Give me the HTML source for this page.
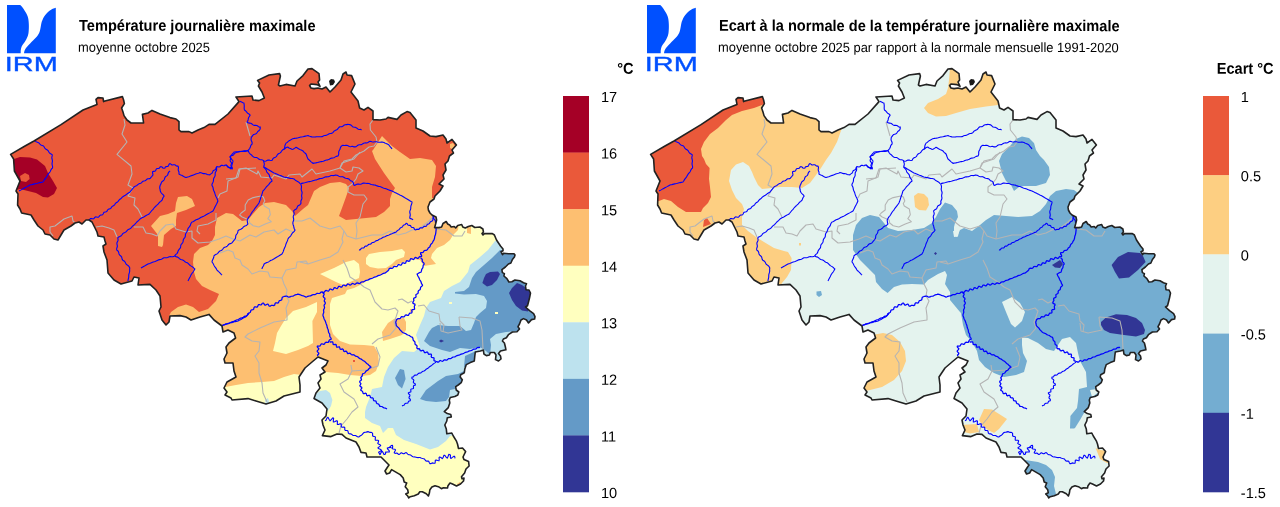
<!DOCTYPE html>
<html lang="fr"><head><meta charset="utf-8"><title>IRM - Température journalière maximale</title>
<style>html,body{margin:0;padding:0;background:#fff;overflow:hidden}svg{display:block;will-change:transform}</style></head>
<body>
<svg width="1280" height="507" viewBox="0 0 1280 507" font-family="'Liberation Sans', sans-serif" fill="#000">
<defs><clipPath id="bel"><path d="M10.6 154.4 L25 146 L34 141 L61 124.6 L83 110 L97 104.4 L96 99.4 L98 97.6 L103 98 L103.6 101.6 L105 101 L122.4 96.6 L123.6 100 L124.4 103.6 L121.6 108 L123 112 L124 115.6 L127 120 L131 123 L143.6 123 L142.4 114.4 L148 113 L152 110.4 L160 114 L170 117.6 L176 119 L179 121.6 L179 130 L181 131.6 L189 131.6 L192 133 L198 130 L204 127.6 L209 124.4 L215 124.4 L228 114 L239 101.6 L236 97 L252 96 L253 100 L259 100.6 L264.4 98 L262 92 L258.4 86 L259.6 83 L257.6 80.4 L269 75 L279.6 73.6 L280.4 76 L278.4 85 L280 86 L286 84.4 L295 86 L297 81 L303 75.6 L308 69 L312 68.6 L319 73.6 L319.6 80 L318 82 L320 86.4 L317 84.6 L311 84 L309.6 85.6 L311 88 L314 88.6 L318 88 L322 89 L326 87 L330 92 L335 87 L341 80 L343 74 L346 72 L347 75 L351.6 75.6 L355 84 L351 92 L358 101 L359.6 108 L364 110 L368 107.4 L373 111 L373 119.6 L380 120 L386 119 L388 117.4 L397 119.4 L401 115 L407 111.6 L410 112.6 L416 120 L416 128 L423 131 L430 136 L436 136.6 L443 135 L446 139 L447 143 L452 139.4 L456.4 145 L452 150 L453.5 153 L449.5 156 L448 161 L445 164 L446 170 L443 175 L444 179 L439 184 L443 186 L440 191 L435 196 L434 199 L430 202 L428 207 L428.4 210 L430 213 L432 215 L436 217 L436.6 220 L435.6 224 L434.6 227.6 L439 227.6 L441.6 227 L443 223.5 L446.2 221.5 L447.7 224 L449.7 225 L451.2 227 L454.2 226.5 L455.7 228 L457.7 225.5 L461.7 224.5 L462.8 227 L465.3 228 L468.3 226.5 L471.8 225.5 L474.8 227.5 L479.9 227 L482.9 229 L483.4 232 L482 233.6 L483 235 L484.4 233.6 L492.4 233.6 L494.4 235 L496.5 240 L500.5 246 L503 249 L503 250.7 L501 251.7 L502.5 254.7 L503.5 253.3 L508.5 253.7 L514 253.7 L515 255 L514.4 257 L512.4 259.5 L510.9 263 L508.4 264 L505.4 267 L501.9 269.6 L502.4 272.6 L504.4 273.6 L503.9 276 L506.9 278.6 L508.9 282 L511.9 281.7 L514.9 280 L520 280.7 L523.5 282.7 L526.5 283.7 L525.5 286 L526 289.7 L529 290 L530.5 293 L529.5 298 L528.5 302 L527.5 305.8 L525.5 307 L529.5 310.6 L533.6 313.6 L535 316.6 L534.6 319 L531.5 319.6 L528.5 323 L526.5 320 L523.5 318.6 L521 320 L519.5 324 L518 326.7 L519.5 329 L517 331.7 L512.4 332 L508.4 334.7 L506.4 337.7 L503.4 339 L502.4 341 L504.4 343 L505.4 347 L505.9 349.8 L500.5 351 L498.5 353.6 L500.5 356 L501 359 L498.5 361 L495.5 359.6 L496 355 L494.4 352.5 L490.4 352.5 L489.4 355 L486.4 355.6 L483.9 354 L483.4 350 L480.4 351 L475.3 352 L474.8 356 L474.3 361 L470.3 362.6 L466.3 364.6 L464.8 369 L464.3 372.7 L460.7 374.7 L460.2 377 L462.3 379.7 L461.2 382.7 L458.2 385 L455.7 386.7 L456.2 390 L458.8 392 L457.8 395 L454.8 396.5 L450.3 397.5 L449.3 400 L449.8 403 L448.3 407.6 L444.3 411.6 L447.3 413.6 L450.8 414.6 L451.3 417 L447.3 417.7 L446.8 421 L444.8 425 L446.3 429 L446.8 433.8 L451.8 433 L453.3 436 L456.3 440.8 L457.5 444 L458.5 448.5 L462.5 448 L465.6 451.6 L463 457 L464 459.6 L468.6 461.6 L469.1 466 L466 469 L464.6 473 L461.5 476.7 L462 478.7 L464 478 L463.5 481 L460.5 484 L456.5 486 L452.5 484 L450 483 L448 485.7 L447.5 488 L443.4 487.7 L441.4 488.7 L438.4 486.7 L435 485.7 L431.9 487 L429.9 489.7 L429.4 493 L428.4 496 L426.3 493.7 L422.3 491.7 L419.8 491.7 L418.3 494 L414.3 495.7 L410.2 496.7 L408.7 498 L407.7 496 L405.7 494 L408.2 492.7 L407.7 489.7 L405.2 486.7 L406.7 483 L404.2 482 L403.2 478 L400.2 474.6 L395 471.6 L391.6 469.6 L389.6 473 L386.6 474 L385 471 L387.6 467 L389 465 L385 461 L381 457 L379 457 L367 457 L366 453 L361 452.4 L359 447 L356 442 L346 438 L342 434.4 L337 434 L331 436.6 L322.4 435.6 L325 430 L323 425 L322 420 L326 416 L327 409 L322 403 L314 398.5 L316 393 L320 388 L318 383 L321 379 L320 375 L325 372 L322 368 L326 365 L328 361 L323 359 L318 357 L312 362 L305 368 L299 377 L300 385 L300 392 L284 396 L276 401 L266 404 L256 401 L248 398.6 L232 400 L231 398 L225 395 L227 392 L224 388 L227 382 L236 377 L234 371 L233 363 L225 363 L224 359 L227 353 L226 347 L229 343 L235.6 338 L234 333 L228 330 L223 332 L222 326 L214 320 L209 314.4 L200 317 L191 320 L186 317 L180 315.6 L170 316 L169 322 L166 325 L162 320 L159 311 L161 307 L160 296 L156 290 L150 284.4 L138 285 L139 278 L134 277 L132 281 L121 284 L114 280 L108 273 L107 260 L104 252 L103 246 L106 244 L105 241 L104 237 L98 236 L97 232 L92 222 L89 220 L86 220 L82 224 L79 222 L75 223 L71 226 L64 230 L61 235 L58 240 L54 239 L50 235 L45 234 L43 230 L38 226 L34 220 L31 215 L21.6 213 L20 209 L17.6 205 L18 194 L16 191 L20 181 L14.4 171 L13.6 159Z"/></clipPath></defs>
<rect width="1280" height="507" fill="#fff"/>
<g transform="translate(0,0)">
<g clip-path="url(#bel)">
<rect x="0" y="60" width="560" height="447" fill="#ea593a"/>
<polygon points="8,159 14,159 20,157 30,157.4 37,159.4 45,166 48,173 53,181 57,188 54,194 48,197.4 43,197 36,193 28,191 20,189 16,190 8,192" fill="#a50026"/>
<polygon points="20,176 25,173 29,175 29.6,179 26,182 21,181" fill="#ea593a"/>
<polygon points="169,316 171,312 178,307 186,304.4 193,307 199,312 208,309 216,301 219,294 210,290 202,286 196,279 194,272 193,262 194,254 200,248 208,245 212,241 215,235 215,227 217,218 226,213 233,214 242,221 248,220 252,215 259,207 265,203 274,202 286,205 292,211 295,216 303,209 308,205 311,198 314,191 320,187 330,183 340,182 346,184 349,188 346,197 342,208 339,216 346,220 356,219 366,218 376,217 384,212 390,206 390,199 392,193 395,188 392,184 384,173 375,159 372,151 373,150 382,136 392,146 400,152 410,159 420,158 432,160 436,166 435,177 432,187 432,198 470,198 560,230 560,510 171,510 171,318" fill="#fdbf71"/>
<polygon points="178,197 187,196 192,199 195,206 186,210 177,213 176,220 176,226 171,229 164,235 163,245 162,247 158,246 158,235 151,226 160,216 168,214 175,211 176,203" fill="#fdbf71"/>
<polygon points="450,144 453,143 455,146 452,149 450,148" fill="#fdbf71"/>
<polygon points="320,274 334,268 346,262 354,260 359,264 360,272 359,278 350,282 343,285 336,282 328,278" fill="#ffffbf"/>
<polygon points="366,258 369,254 380,252 392,251 402,249 405,252 404,257 396,260 392,264 386,268 378,268.4 370,267 366,264" fill="#ffffbf"/>
<polygon points="459,222 458,230 453,235 450,240 444,245 437,248 432,254 431,258 436,264 424,266 420,260 412,259 404,262 396,265 388,270 384,274 374,277 368,280 360,285 354,288 347,290 345,294 332,298 330,304 330,316 330,325 333,334 340,341 350,344.6 364,345 374,346 378,353 379,363 376,371 370,375 362,376 350,375 338,373 326,372 312,378 308,385 308,400 315,440 360,470 400,510 560,510 560,222" fill="#ffffbf"/>
<polygon points="317,302 306,307 293,311 286,318 281,326 277,333 275,343 273,351 286,354 298,350 308,346 313,343 312.4,321 317,312" fill="#ffffbf"/>
<polygon points="220,388 236,385 248,383 262,382 274,381 284,377 294,374 302,375 305,410 220,410" fill="#ffffbf"/>
<polygon points="382,332 388,323 394,319 404,318 406,322 406,330 402,335 390,339 383,341" fill="#fdbf71"/>
<polygon points="410,309 413,309 413,312 410,312" fill="#fdbf71"/>
<polygon points="467,226 471,226 471,234 467,233" fill="#fdbf71"/>
<polygon points="457,484 460,482 462,485 458,487" fill="#fdbf71"/>
<polygon points="353,360 355,360 355,362 353,362" fill="#ea593a"/>
<polygon points="495,241 488,250 480,257 470,265 468,272 460,282 452,286 444,291 441,298 430,302 426,308 424,316 420,325 416,335 420,347 414,352 402,351 394,358 388,367 384,377 382,387 372,389 370,397 366,407 365,412 365,418 372,423 380,426 383,433 388,428 393,428 396,435 404,440 416,444 430,449.6 438,447 446,441 450,436 458,434 470,420 480,390 520,360 560,320 560,241" fill="#bde2ee"/>
<polygon points="312,396 320,391 326,390 330,393 332.4,400 331,406 328,411 320,405 312,400" fill="#bde2ee"/>
<polygon points="265,400 268,398 269,402 266,405" fill="#bde2ee"/>
<polygon points="500,250 492,258 484,265 476,272 472,278 469,287 464,291 455,292 455,293.6 464,294.4 476,294 484,296 487,301 486,308 480,313 476,317 474,323 471,330 466,331 460,326 448,326 438,325 432,328 429,332 424,341 430,346 442,350 450,352 460,348 470,349 480,347 486,351 490,355 491,345 490,339 496,334 506,332 520,331 545,331 545,250" fill="#649ac7"/>
<polygon points="395,378 400,369 404,370 405.6,379 402,388.6 398,385" fill="#649ac7"/>
<polygon points="420,399 426,390 438,381 446,376 458,374 466,370 470,375 462,384 455,389 450,390 449,397 446,401 436,402 426,401" fill="#649ac7"/>
<polygon points="465,356 476,351 478,360 468,366 464,367" fill="#649ac7"/>
<polygon points="486,274 490,272 498,271.4 500,274 497,280 492,285 487,286.4 482.4,283 484,278" fill="#313695"/>
<polygon points="517,283 522,285 526,288 532,292 531,300 528,307 528,311.6 522,310.4 516,306 512,300 509,293 512,288" fill="#313695"/>
<polygon points="439,341 441,339.5 444,341 441,342.5" fill="#313695"/>
<polygon points="449,302 452,302 452,304 449,304" fill="#ffffbf"/>
<polygon points="495,312 498,312 498,314 495,314" fill="#ffffbf"/>
<g fill="none" stroke="#b4b4b4" stroke-width="1.1" stroke-linejoin="round">
<path d="M124 119 L125 125 L122 134 L127 142 L117 154.4 L131 166 L132 174 L128 185 L133 188 L128 196 L135 198 L134 205 L138 209 L142 217"/>
<path d="M75 222.6 L73 221 L72 216 L64 219 L55 226 L50 227 L50 232 L53 236"/>
<path d="M96 227 L102 226 L109 228 L114 230 L117 237"/>
<path d="M134 227 L143 227 L146 233 L152 234 L157 236 L160 231 L166 225 L173 224 L176 229 L186 232 L192 231 L192 238 L198 243 L210 242 L219 239 L226 236 L233 239 L240 241 L250 235 L256 237 L264 232 L274 230 L278 234 L286 229 L293 232"/>
<path d="M256 168 L240 169 L238 177 L228 181 L227 191 L220 194 L218 198"/>
<path d="M216 213 L216 220 L208 224 L198 226 L197 231 L200 234"/>
<path d="M246 122 L250 136"/>
<path d="M373 120 L370 124 L370.4 130 L376 137 L377 142 L374 146 L369 147 L364 151 L356 155 L352 159 L344 161 L340 168"/>
<path d="M226 179 L236 178 L239 169 L246 168 L257 174 L258 171 L261 177 L272 178 L274 175 L286 179 L289 175 L300 174 L302 177 L312 169 L316 174 L330 171 L340 168 L342 163 L354 159 L360 152"/>
<path d="M340 168 L346 172 L352 171 L353 167 L359 168 L363 171 L358 174 L356 179 L352 184 L348 187 L348 192 L354 195 L364 195 L367 199 L363 204 L360 217 L356 223 L357 231 L356 239"/>
<path d="M260.8 196 L253.2 197.6 L248.2 200 L245.2 205 L245.2 210 L241.2 213 L239.6 215 L242.2 217 L246.2 218.7 L249.2 220 L249.7 223 L253.2 225.7 L258.8 227 L265.3 224 L271.3 221.7 L267.8 218.7 L270.3 214.7 L269.3 209 L264.3 206 L263.3 203.6 L264.8 201 L263.3 197 L260.8 196"/>
<path d="M293 221 L302 221 L310 218 L320 226 L330 229 L340 226 L344 231 L347 236 L356 239 L364 237 L372 235 L382 235 L390 231 L398 235 L406 233 L412 230 L420 228 L428 222 L432 218"/>
<path d="M344 231 L342 239 L343 242 L338 252 L330 257 L320 260 L308 264 L300 262"/>
<path d="M436 229 L446 230 L454 236 L462 236 L465 231"/>
<path d="M220 253 L228 250 L233 252 L235 258 L240 260 L242 265 L248 269 L252 274 L260 271 L268 272 L270 277 L282 278 L284 274 L286 270 L296 268 L297 262 L306 261 L308 264"/>
<path d="M282 278 L284 284 L287 290 L286 296 L289 301 L286 308 L287 316 L287 320 L274 322 L260 328 L248 334 L245 337 L252 341 L260 342 L259 351 L255 356 L259 363 L259 373 L262 383 L263 393 L267 402"/>
<path d="M343 260 L347 268 L350 277 L358 282 L364 287 L370 290 L375 302 L382 309 L388 310 L395 308 L398 311 L396 317 L394 322 L396 328 L390 335 L378 339 L372 344"/>
<path d="M398 300 L402 299 L408 303 L412 301"/>
<path d="M418 306 L424 305 L429 311 L439 314 L440 321 L444 325 L443 332"/>
<path d="M459 317 L472 318 L480 321 L482 330 L483 349"/>
<path d="M459 317 L460 326 L462 330 L448 333 L441 331 L440 323"/>
<path d="M376 347 L380 357 L378 366 L366 370 L352 371 L351 365"/>
<path d="M352 371 L348 379 L340 384 L344 392 L354 399 L358 407 L352 412 L347 419 L341 426 L339 433"/>
</g>
<g fill="none" stroke="#0000ff" stroke-width="1.1" stroke-linejoin="round">
<path d="M34.11 139.83 L34.75 140.49 L35.39 141.17 L36.11 141.71 L36.95 142.07 L37.83 142.37 L38.65 142.77 L39.34 143.36 L39.96 144.07 L40.6 144.72 L41.37 145.2 L42.25 145.51 L43.17 145.83 L43.84 146.44 L44.35 147.22 L44.8 148.05 L45.36 148.78 L46.09 149.33 L46.93 149.78 L47.7 150.3 L48.31 150.98 L48.77 151.8 L49.25 152.61 L49.88 153.26 L50.67 153.76 L51.49 154.22 L52.28 154.99 L52.16 155.92 L51.93 156.86 L51.82 157.79 L51.94 158.72 L52.21 159.64 L52.41 160.56 L52.4 161.49 L52.22 162.43 L52.06 163.36 L52.08 164.29 L52.27 165.22 L52.5 166.14 L52.58 167.07 L52.47 168.04 L51.79 168.72 L51.2 169.45 L50.75 170.28 L50.36 171.15 L49.92 171.98 L49.36 172.73 L48.72 173.43 L48.12 174.15 L47.61 174.94 L47.18 175.78 L46.74 176.61 L46.22 177.39 L45.63 178.12 L45.03 178.85 L44.49 179.62 L44.02 180.43 L43.56 181.25 L43.02 182.07 L42.08 182.25 L41.14 182.41 L40.2 182.59 L39.28 182.82 L38.36 183.08 L37.44 183.33 L36.51 183.53 L35.57 183.71 L34.64 183.9 L33.71 184.12 L32.79 184.36 L31.86 184.6 L30.93 184.81 L30 185 L29.14 185.44 L28.29 185.9 L27.46 186.38 L26.63 186.87 L25.79 187.34 L24.93 187.78 L24.07 188.21 L23.21 188.65 L22.37 189.13 L21.55 189.64 L20.72 190.13 L19.86 190.57 L19 191"/>
<path d="M88.13 220.4 L89.02 220.22 L89.72 219.44 L90.4 218.64 L91.28 218.42 L92.33 218.7 L93.33 218.84 L94.11 218.34 L94.77 217.44 L95.53 216.86 L96.5 216.94 L97.56 217.25 L98.46 217.1 L99.16 216.34 L99.71 215.61 L100.48 215.08 L101.58 214.98 L102.57 214.74 L103.16 213.97 L103.57 212.94 L104.21 212.24 L105.21 212.01 L106.24 211.82 L106.97 211.23 L107.44 210.29 L108 209.48 L108.88 209.08 L109.89 208.87 L110.71 208.41 L111.28 207.6 L111.8 206.8 L112.49 206.18 L113.38 205.76 L114.19 205.27 L114.77 204.55 L115.25 203.71 L115.85 203 L116.63 202.48 L117.44 201.99 L118.11 201.35 L118.66 200.59 L119.24 199.86 L119.94 199.26 L120.7 198.72 L121.41 198.12 L122.02 197.43 L122.76 196.81 L123.56 196.26 L124.4 195.79 L125.24 195.3 L126.02 194.73 L126.78 194.13 L127.57 193.57 L128.4 193.07 L129.23 192.59 L130.04 192.03 L130.56 191.27 L131.09 190.53 L131.68 189.83 L132.32 189.17 L132.93 188.49 L133.45 187.73 L133.95 186.92 L134.78 186.41 L135.68 186.03 L136.58 185.63 L137.37 185.07 L138.1 184.39 L138.9 183.84 L139.84 183.51 L140.78 183.2 L141.58 182.63 L142.26 181.87 L143.02 181.25 L143.98 180.96 L145.02 180.82 L145.89 180.33 L146.59 179.51 L147.38 178.87 L148.41 178.72 L149.5 178.67 L150.37 178.18 L151.02 177.27 L151.53 176.91 L152.12 175.98 L152.85 175.09 L152.95 174.07 L152.53 172.95 L152.69 171.56 L153.74 171.39 L154.85 171.3 L155.59 170.69 L156 169.62 L156.54 168.74 L157.53 168.48 L158.69 168.46 L159.54 168 L160.01 166.97 L161.11 166.63 L162.06 167.11 L162.92 168 L163.9 168.31 L164.94 167.92 L165.37 167 L166.21 166.59 L167.3 166.49 L168.19 166.13 L168.69 165.29 L169.06 164.29 L170.11 163.55 L170.89 164.2 L171.68 164.85 L172.58 165.01 L173.58 164.78 L174.54 164.71 L175.39 165.12 L176.17 165.76 L177.02 166.13 L177.91 166.01 L178.4 166.97 L178.48 167.97 L178.26 169.01 L178.24 170.03 L178.57 171.01 L178.95 171.98 L179.03 172.98 L178.96 174.07 L179.8 174.6 L180.73 174.93 L181.68 175.24 L182.55 175.71 L183.36 176.29 L184.2 176.79 L185.11 177.18 L185.98 177.54 L186.85 177.22 L187.75 176.98 L188.65 176.72 L189.51 176.39 L190.37 176.01 L191.23 175.67 L192.12 175.39 L193.02 175.14 L193.89 174.84 L194.75 174.47 L195.6 174.1 L196.48 173.8 L197.39 173.57 L198.28 173.31 L199.14 172.95 L200.02 172.52 L200.94 172.7 L201.82 173.03 L202.69 173.39 L203.61 173.59 L204.56 173.63 L205.5 173.72 L206.39 174.03 L207.24 174.5 L208.13 174.8 L209.09 174.8 L209.81 174.83 L210.47 174.12 L211.37 173.63 L212.17 173.05 L212.63 172.17 L212.96 171.17 L213.56 170.41 L214.51 169.96 L215.42 169.47 L215.9 168.61 L216.14 167.53 L216.89 166.55 L217.88 166.73 L218.89 166.99 L219.77 166.75 L220.53 166 L221.31 165.36 L222.25 165.35 L223.29 165.72 L224.25 165.78 L224.91 165.15 L226.11 165.08 L226.98 165.59 L227.52 166.68 L228.2 167.52 L229.3 167.63 L230.5 167.56 L231.35 168.11 L232.23 168.96 L232.42 167.98 L231.91 167.12 L231.14 166.3 L230.87 165.39 L231.23 164.39 L231.57 163.38 L231.29 162.48 L230.58 161.65 L230.12 160.77 L230.27 159.8 L230.63 158.79 L230.57 157.85 L230.01 157.01 L230.55 156.13 L231.4 155.66 L232.43 155.47 L233.32 155.07 L233.95 154.3 L234.52 153.46 L235.29 152.9 L236.25 152.59 L237.04 152.26 L237.94 152.02 L238.82 151.63 L239.72 151.41 L240.66 151.45 L241.6 151.52 L242.52 151.4 L243.42 151.11 L244.32 150.87 L245.24 150.79 L246.17 150.8 L247.1 150.73 L248 150.5"/>
<path d="M170.09 171.06 L169.27 171.59 L168.62 172.24 L168.24 173.08 L168.01 174.03 L167.68 174.91 L167.09 175.6 L166.29 176.14 L165.52 176.7 L164.98 177.43 L164.67 178.32 L164.41 179.25 L163.98 180.05 L163.3 180.68 L162.51 181.23 L161.83 181.85 L161.38 182.65 L161.09 183.55 L160.76 184.43 L160.28 185 L160.02 186 L159.75 187 L159.74 188 L159.98 189 L160.22 190 L160.18 190.86 L160.6 191.69 L161.01 192.53 L161.54 193.28 L162.22 193.91 L162.94 194.51 L163.58 195.17 L164.1 196.05 L163.43 196.96 L162.86 197.93 L162.46 198.98 L162.07 200.07 L161.42 200.75 L160.69 201.36 L159.95 201.95 L159.26 202.6 L158.64 203.3 L158.03 204.03 L157.39 204.72 L156.7 205.37 L155.99 205.99 L155.29 206.62 L154.64 207.3 L154.01 208 L153.41 208.78 L152.78 209.52 L152.12 210.25 L151.47 210.98 L150.85 211.73 L150.25 212.5 L149.65 213.27 L149.02 214.03 L148.18 214.46 L147.35 214.88 L146.52 215.32 L145.72 215.8 L144.92 216.3 L144.12 216.78 L143.29 217.21 L142.44 217.61 L141.6 218.03 L140.79 218.5 L140.01 219.01 L139.4 219.73 L138.72 220.39 L138 221 L137.26 221.59 L136.59 222.25 L135.99 222.99 L135.41 223.74 L134.77 224.44 L134.03 225.03 L133.25 225.59 L132.54 226.2 L131.95 226.93 L131.33 227.62 L130.67 228.26 L129.91 228.76 L129.06 229.15 L128.23 229.55 L127.5 230.1 L126.89 230.8 L126.31 231.53 L125.62 232.13 L124.79 232.54 L123.9 232.87 L123.05 233.39 L122.4 234.13 L121.85 235 L121.22 235.76 L120.37 236.27 L119.41 236.64 L118.52 237.1 L117.77 237.97 L118 239.02 L118.09 240.05 L117.8 241.03 L117.27 241.98 L116.9 242.94 L116.92 243.97 L117.17 245 L117.4 246 L117.23 247 L116.83 248 L116.6 249 L116.81 250.12 L117.64 250.75 L118.34 251.47 L118.71 252.37 L118.89 253.4 L119.18 254.36 L119.77 255.14 L120.58 255.79 L121.3 256.49 L121.74 257.36 L121.95 258.36 L122.23 259.33 L122.79 260.18 L123.65 260.71 L124.49 261.27 L125.11 262 L125.56 262.9 L126 263.8 L126.62 264.54 L127.42 265.12 L128.24 265.69 L128.91 266.39 L129.41 267.23 L129.84 267.98 L129.64 268.9 L129.63 269.84 L129.68 270.8 L129.62 271.74 L129.39 272.66 L129.08 273.56 L128.85 274.48 L128.75 275.41 L128.74 276.36 L128.69 277.3 L128.53 278.23 L128.29 279.14 L128.06 280.06 L128 281"/>
<path d="M216.67 166.92 L216.57 167.84 L216.64 168.8 L216.63 169.74 L216.37 170.62 L215.89 171.44 L215.42 172.27 L215.17 173.15 L215.15 174.09 L215.18 175.05 L215 175.99 L214.57 176.85 L214.05 177.69 L213.66 178.56 L213.5 179.5 L213.45 180.48 L213.31 181.43 L212.97 182.32 L212.5 183.17 L212.08 184.03 L211.85 185.05 L212.31 185.9 L212.75 186.75 L213.04 187.65 L213.21 188.6 L213.39 189.54 L213.67 190.44 L214.07 191.31 L214.48 192.17 L214.81 193.06 L215.04 193.98 L215.32 194.9 L215.66 195.79 L216.08 196.64 L216.53 197.49 L216.94 198.35 L217.29 199.23 L217.61 200.13 L217.95 200.97 L217.55 201.81 L217.17 202.67 L216.79 203.52 L216.37 204.35 L215.92 205.17 L215.47 205.99 L215.05 206.82 L214.66 207.66 L214.27 208.51 L213.86 209.35 L213.43 210.18 L212.99 210.99 L212.14 211.43 L211.3 211.9 L210.47 212.4 L209.64 212.88 L208.79 213.34 L207.92 213.76 L207.05 214.18 L206.21 214.65 L205.39 215.16 L204.57 215.67 L203.73 216.14 L202.85 216.54 L201.96 216.93 L201.12 217.33 L200.32 217.81 L199.54 218.32 L198.72 218.78 L197.86 219.13 L196.97 219.43 L196.1 219.78 L195.29 220.25 L194.52 220.8 L193.74 221.32 L192.9 221.71 L191.98 221.99 L191.39 222.73 L190.93 223.55 L190.62 224.44 L190.34 225.36 L189.93 226.2 L189.34 226.94 L188.67 227.65 L188.13 228.42 L187.8 229.3 L187.57 230.25 L187.27 231.1 L186.84 231.95 L186.25 232.74 L185.72 233.56 L185.45 234.47 L185.38 235.46 L185.28 236.44 L184.93 237.32 L184.33 238.11 L183.74 238.88 L183.33 239.72 L183.17 240.66 L183.07 241.64 L182.77 242.53 L182.21 243.29 L181.53 244 L180.99 244.78 L180.73 245.68 L180.64 246.66 L180.46 247.6 L180.01 248.42 L179.35 249.14 L178.75 249.83 L178.25 250.58 L177.95 251.47 L177.69 252.38 L177.27 253.18 L176.62 253.83 L175.88 254.42 L175.25 255.08 L174.96 255.79 L174.09 256.22 L173.21 256.59 L172.29 256.73 L171.33 256.68 L170.38 256.62 L169.46 256.76 L168.57 257.11 L167.7 257.49 L166.79 257.73 L165.85 257.76 L164.9 257.73 L163.93 257.81 L163.07 258.22 L162.24 258.72 L161.39 259.16 L160.49 259.45 L159.55 259.64 L158.62 259.87 L157.74 260.22 L156.89 260.67 L156.04 261.1 L155.15 261.43 L154.23 261.68 L153.31 261.93 L152.41 262.25 L151.55 262.64 L150.68 263.05 L149.8 263.4 L148.9 263.69 L147.98 263.97 L147.1 264.45 L146.24 264.98 L145.39 265.52 L144.52 266.04 L143.63 266.52 L142.74 266.98 L141.86 267.47 L141 268"/>
<path d="M174.86 256.25 L175.76 256.61 L176.74 256.84 L177.67 257.14 L178.48 257.68 L179.2 258.37 L179.96 258.99 L180.83 259.41 L181.79 259.66 L182.72 259.95 L183.56 260.44 L184.31 261.08 L185.06 261.71 L185.88 262.16 L186.74 262.6 L187.6 263.04 L188.37 263.6 L189.03 264.29 L189.67 265.01 L190.39 265.64 L191.21 266.14 L192.05 266.6 L192.84 267.13 L193.55 267.77 L194.22 268.46 L194.89 268.93 L194.43 269.7 L194.02 270.51 L193.58 271.3 L193.08 272.05 L192.51 272.76 L191.95 273.46 L191.43 274.2 L190.97 274.98 L190.6 275.87 L190.2 276.74 L189.74 277.59 L189.27 278.42 L188.81 279.26 L188.4 280.13 L188 281"/>
<path d="M240.01 101.37 L241.02 101.75 L242 102.19 L242.98 102.65 L243.94 103 L244.06 104 L244.19 105 L244.25 106 L244.22 107 L244.18 108.01 L244.24 109.01 L244.41 109.99 L245.18 110.53 L245.89 111.15 L246.51 111.86 L247.11 112.6 L247.78 113.26 L248.56 113.8 L249.38 114.28 L250.2 115.08 L249.73 115.92 L249.15 116.71 L248.65 117.53 L248.36 118.44 L248.21 119.41 L248 120.36 L247.57 121.21 L246.98 122.05 L247.76 122.63 L248.65 122.99 L249.63 123.11 L250.61 123.24 L251.5 123.59 L252.27 124.21 L253.02 124.88 L253.9 125.33 L254.89 125.38 L255.9 125.33 L256.85 125.5 L257.7 126 L258.51 126.64 L259.37 127.09 L260.21 126.93 L260.26 128.07 L260.07 129.13 L259.47 130.04 L258.83 130.78 L258.04 131.23 L257.44 131.95 L256.93 132.78 L256.33 133.5 L255.52 133.94 L254.59 134.21 L253.7 134.54 L252.98 135.1 L252.44 135.88 L251.9 136.68 L251.35 136.95 L251.24 137.99 L251.04 139.04 L251.1 140.05 L251.49 141.01 L251.95 141.97 L252.16 142.96 L252.05 144.03 L251.31 144.76 L250.76 145.62 L250.46 146.6 L250.18 147.6 L249.71 148.49 L249.03 149.27 L248.34 150.03 L247.99 150.8 L247.06 151.02 L246.14 151.27 L245.21 151.39 L244.27 151.34 L243.33 151.24 L242.39 151.24 L241.46 151.38 L240.54 151.58 L239.61 151.73 L238.67 151.76 L237.73 151.71 L236.79 151.7 L235.86 151.78 L234.93 151.93 L234.05 152.04 L233.49 152.76 L232.87 153.44 L232.25 154.12 L231.67 154.82 L231.12 155.55 L230.59 156.3 L230.04 156.97 L230.62 157.78 L231.19 158.61 L231.77 159.42 L232.38 160.22 L233.01 161 L232.82 161.9 L232.59 162.79 L232.33 163.67 L232.07 164.55 L231.85 165.43 L231.66 166.33 L231.48 167.23 L231.28 168.12 L230.98 169.02 L230.31 168.4 L229.62 167.8 L228.89 167.24 L228.13 166.73 L227.38 166.21 L226.66 165.64 L226 165"/>
<path d="M248.19 150.85 L248.64 151.66 L249.02 152.53 L249.49 153.32 L250.15 153.96 L250.94 154.51 L251.66 155.1 L252.09 155.77 L252.85 156.39 L253.6 156.99 L254.45 157.35 L255.41 157.47 L256.39 157.54 L257.28 157.82 L258.05 158.38 L258.77 159.06 L259.57 159.57 L260.49 159.77 L261.49 159.79 L262.43 159.93 L263.25 160.38 L264.01 161.07 L265.05 161.25 L266.04 161.05 L266.99 160.55 L267.95 160.12 L268.96 160.08 L270.01 160.33 L271.05 160.5 L272.19 160.21 L272.63 159.35 L273.1 158.53 L273.77 157.92 L274.62 157.51 L275.51 157.14 L276.24 156.6 L276.78 155.84 L277.22 154.99 L277.77 154.25 L278.51 153.72 L279.37 153.32 L280.19 152.88 L280.85 152.26 L281.36 151.47 L281.85 150.67 L282.48 150.02 L283.26 149.53 L284.13 149.04 L284.53 148.22 L284.72 147.34 L284.81 146.41 L284.95 145.51 L285.25 144.66 L285.7 143.85 L286.08 143.12 L286.85 142.65 L287.54 142.06 L288.2 141.43 L288.91 140.87 L289.7 140.42 L290.52 140.03 L291.32 139.6 L292.02 139.1 L292.89 138.82 L293.76 138.54 L294.65 138.34 L295.55 138.22 L296.45 138.1 L297.35 137.94 L298.23 137.72 L299.11 137.47 L299.99 137.24 L300.88 137.07 L301.78 136.92 L302.68 136.77 L303.56 136.59 L304.45 136.37 L305.33 136.14 L306.21 135.94 L307.11 135.77 L307.99 135.62 L308.99 135.99 L309.99 136.32 L311.01 136.63 L312 136.95 L312.91 136.94 L313.82 136.95 L314.73 136.95 L315.64 136.9 L316.54 136.81 L317.45 136.71 L318.36 136.68 L319.27 136.7 L320.18 136.74 L321.09 136.73 L322.01 136.64 L322.89 136.21 L323.78 135.83 L324.71 135.56 L325.66 135.36 L326.6 135.11 L327.49 134.72 L328.34 134.24 L329.21 133.81 L330.14 133.54 L331.11 133.39 L332.13 133.17 L332.83 132.59 L333.44 131.89 L334.05 131.19 L334.77 130.63 L335.61 130.23 L336.48 129.88 L337.26 129.41 L337.9 128.75 L338.46 127.98 L339.09 127.3 L339.92 126.79 L340.92 126.74 L341.89 126.63 L342.76 126.26 L343.55 125.64 L344.33 125.04 L345.22 124.7 L346.21 124.64 L347.22 124.61 L347.84 124.32 L348.85 124.51 L349.91 124.63 L350.83 125 L351.59 125.7 L352.31 126.48 L353.16 127.01 L354.18 127.2 L355.24 127.3 L356.13 127.64 L356.97 128.24 L357.77 128.93 L358.67 129.36 L359.7 129.44 L360.75 129.42 L361.6 130"/>
<path d="M284.12 149.24 L284.99 148.48 L285.88 147.76 L286.92 147.34 L287.94 147.09 L288.67 147.73 L289.52 148.17 L290.44 148.51 L291.31 148.9 L291.92 149.46 L292.81 149.18 L293.68 148.86 L294.48 148.42 L295.21 147.86 L296.05 147.3 L296.94 147.72 L297.77 148.26 L298.59 148.83 L299.45 149.3 L300.36 149.68 L301.28 150.04 L302.17 150.47 L303.02 150.98 L303.71 151.79 L304.45 152.55 L305.24 153.26 L306.04 153.98 L306.45 154.98 L306.8 156 L307.16 157.02 L307.57 158.01 L308.01 158.99 L308.74 159.6 L309.45 160.23 L310.14 160.89 L310.83 161.54 L311.55 162.17 L312.28 162.77 L312.99 163.36 L313.91 163.15 L314.83 162.99 L315.76 162.84 L316.68 162.66 L317.59 162.43 L318.49 162.16 L319.4 161.92 L320.32 161.75 L321.26 161.63 L322.19 161.5 L323.1 161.28 L323.99 160.98 L324.84 160.58 L325.71 160.27 L326.62 160.06 L327.54 159.87 L328.43 159.58 L329.27 159.17 L330.08 158.7 L330.93 158.32 L331.84 158.1 L332.78 157.97 L333.7 157.77 L334.55 157.4 L335.35 156.88 L336.17 156.4 L337.05 156.11 L338.01 156 L338.45 155.17 L338.71 154.29 L338.73 153.35 L338.69 152.39 L338.8 151.48 L339.18 150.63 L339.7 149.81 L340.11 148.97 L340.17 148.17 L340.66 147.16 L341.24 146.24 L342.11 145.61 L342.96 145.19 L343.85 145.54 L344.79 145.56 L345.77 145.37 L346.73 145.29 L347.64 145.54 L348.49 146.05 L349.35 146.52 L350.27 146.68 L351.24 146.54 L352.22 146.36 L353.15 146.46 L353.96 146.89 L354.98 146.9 L355.91 146.7 L356.73 146.16 L357.49 145.49 L358.31 144.98 L359.26 144.79 L360.27 144.79 L361.23 144.66 L362.07 144.24 L362.87 143.67 L363.69 143.17 L364.59 142.93 L365.55 142.92 L366.52 142.91 L367.42 142.68 L368.24 142.21 L369.06 141.69 L370.02 141.33 L370.94 141.53 L371.86 141.83 L372.79 142 L373.72 141.96 L374.67 141.8 L375.61 141.71 L376.54 141.81 L377.47 142.04 L378.39 142.24 L379.32 142.29 L380.27 142.21 L381.21 142.12 L382.14 142.15 L383.07 142.3 L383.96 142.47 L384.78 142.94 L385.64 143.32 L386.52 143.66 L387.38 144.05 L388.19 144.52 L388.98 145.01 L389.54 145.84 L390.16 146.63 L390.81 147.39 L391.44 148.17 L392 149"/>
<path d="M263.66 161 L263.79 162 L264.12 163 L264.33 164 L264.2 165 L263.88 166 L263.73 167.17 L264.32 167.91 L265.07 168.56 L265.74 169.25 L266.2 170.08 L266.48 171.01 L266.79 171.93 L267.3 172.73 L267.98 173.41 L268.67 174.1 L269.21 174.9 L269.48 175.83 L269.72 176.78 L270.09 177.67 L270.64 178.46 L271.25 179.23 L271.74 180.06 L272.06 181.06 L271.18 181.68 L270.39 182.39 L269.72 183.22 L269.07 184.06 L268.5 184.78 L267.84 185.43 L267.16 186.06 L266.52 186.73 L265.95 187.46 L265.42 188.22 L264.86 188.95 L264.25 189.64 L263.6 190.3 L262.95 190.98 L262.66 191.84 L262.42 192.71 L262.18 193.58 L261.9 194.44 L261.59 195.29 L261.27 196.14 L260.96 196.99 L260.69 197.85 L260.43 198.72 L260.17 199.58 L259.89 200.44 L259.58 201.29 L259.26 202.14 L258.97 202.98 L258.44 203.72 L257.92 204.46 L257.4 205.21 L256.84 205.93 L256.27 206.63 L255.69 207.34 L255.14 208.06 L254.63 208.81 L254.13 209.57 L253.6 210.31 L253.02 211.02 L252.47 211.73 L251.93 212.45 L251.45 213.22 L251.02 214.01 L250.58 214.81 L250.08 215.56 L249.51 216.26 L248.92 216.94 L248.39 217.67 L247.95 218.47 L247.57 219.3 L247.16 219.96 L247.34 220.98 L247.41 222.02 L247.56 223.05 L247.95 223.92 L247.29 224.63 L246.59 225.26 L245.77 225.73 L244.88 226.09 L244.02 226.49 L243.27 227.07 L242.64 227.8 L241.99 228.51 L241.22 229.05 L240.32 229.4 L239.4 229.73 L238.6 230.23 L237.93 230.97 L237.84 231.99 L237.56 232.93 L237 233.77 L236.35 234.56 L235.87 235.42 L235.7 236.41 L235.65 237.44 L235.41 238.4 L234.87 239.24 L234.19 240.02 L233.8 240.71 L233.12 241.39 L232.54 242.2 L231.89 242.9 L231.06 243.35 L230.11 243.63 L229.2 243.97 L228.46 244.54 L227.85 245.32 L227.24 246.08 L226.48 246.63 L225.57 246.96 L224.63 247.27 L223.81 247.76 L223.22 248.49 L222.68 249.27 L222.04 249.95 L221.25 250.42 L220.37 250.79 L219.55 251.22 L218.87 251.84 L218.29 252.58 L217.7 253.31 L217 253.89 L216.17 254.32 L215.33 254.74 L214.58 255.26 L213.91 255.97 L213.8 256.89 L213.61 257.77 L213.26 258.61 L212.83 259.42 L212.43 260.24 L212.16 261.1 L211.98 262.01 L212.59 262.75 L213.11 263.53 L213.53 264.38 L213.94 265.24 L214.41 266.06 L214.96 266.82 L215.54 267.58 L216.07 268.36 L216.54 269.17 L216.98 270.02 L217.67 270.76 L218.4 271.46 L219.16 272.13 L219.89 272.82 L220.59 273.55 L221.27 274.3 L222 275"/>
<path d="M263.99 167.02 L264.87 167.44 L265.71 167.92 L266.51 168.48 L267.31 169.04 L268.13 169.56 L268.99 170.02 L269.85 170.47 L270.7 170.95 L271.51 171.48 L272.32 172.02 L273.14 172.54 L273.99 173.02 L274.92 173.35 L275.83 173.69 L276.74 174.07 L277.63 174.47 L278.53 174.86 L279.44 175.21 L280.37 175.53 L281.29 175.87 L282.19 176.24 L283.09 176.65 L283.99 177.05 L284.9 177.23 L285.82 177.36 L286.74 177.48 L287.65 177.66 L288.55 177.9 L289.44 178.16 L290.34 178.37 L291.26 178.5 L292.19 178.57 L293.12 178.69 L294.05 178.94 L294.75 179.6 L295.47 180.23 L296.27 180.76 L297.14 181.19 L297.99 181.64 L298.76 182.21 L299.43 182.91 L300.11 183.6 L300.8 184.02 L301.07 184.92 L301.36 185.82 L301.5 186.73 L301.42 187.66 L301.25 188.6 L301.21 189.53 L301.42 190.43 L301.78 191.32 L302.06 192.22 L302.07 193.15 L301.87 194.09 L301.7 194.96 L301.59 195.96 L301.78 197 L301.95 198.04 L301.8 199.04 L301.34 200 L300.91 200.96 L300.82 201.96 L301.04 203.03 L300.63 203.96 L299.98 204.67 L299.09 205.18 L298.2 205.68 L297.55 206.4 L297.16 207.34 L296.79 208.3 L296.19 209.06 L295.33 209.6 L294.42 210.08 L293.62 210.97 L293.81 211.92 L294.1 212.88 L294.18 213.83 L293.92 214.75 L293.51 215.66 L293.24 216.57 L293.29 217.52 L293.55 218.47 L293.72 219.42 L293.6 220.35 L293.25 221.27 L292.93 222.18 L292.85 223.11 L293.02 224.06 L293.2 224.92 L293.64 225.9 L293.82 226.99 L293.99 228.08 L294.42 229.07 L295.03 230.02 L294.58 230.88 L293.97 231.61 L293.25 232.25 L292.54 232.9 L291.96 233.65 L291.48 234.49 L291.01 235.32 L290.45 236.09 L289.78 236.77 L289.1 237.45 L288.49 238.18 L287.95 238.98 L287.72 239.89 L287.42 240.77 L287.05 241.62 L286.64 242.46 L286.27 243.31 L285.95 244.18 L285.67 245.07 L285.38 245.95 L285.05 246.82 L284.67 247.67 L284.3 248.52 L283.96 249.38 L283.65 250.26 L283.36 251.14 L283.04 252.02 L282.51 253.01 L281.99 253.98 L281.15 254.47 L280.33 254.99 L279.51 255.52 L278.69 256.04 L277.84 256.52 L276.98 256.97 L276.14 257.45 L275.32 257.97 L274.52 258.53 L273.71 259.07 L272.86 259.54 L271.98 259.97 L271.07 260.35 L270.19 260.83 L269.35 261.37 L268.5 261.89 L267.59 262.3 L266.64 262.62 L265.71 262.97 L264.84 263.46 L264.06 264.02 L263.78 265.07 L263.29 266.04 L262.69 266.96 L262.19 267.92 L262 269"/>
<path d="M301 183.58 L301.91 183.34 L302.83 183.14 L303.75 182.96 L304.68 182.77 L305.59 182.55 L306.5 182.3 L307.41 182.04 L308.32 181.82 L309.25 181.64 L310.18 181.48 L311.1 181.28 L312.01 181.02 L312.86 180.7 L313.73 180.41 L314.61 180.2 L315.51 180.04 L316.41 179.86 L317.27 179.59 L318.12 179.24 L318.97 178.88 L319.84 178.62 L320.74 178.47 L321.66 178.36 L322.55 178.17 L323.4 177.83 L324.22 177.41 L325.07 177.05 L325.97 176.86 L326.91 176.85 L327.85 176.81 L328.74 176.6 L329.6 176.21 L330.45 175.79 L331.34 175.55 L332.28 175.53 L333.24 175.59 L334.17 175.5 L334.96 175.15 L335.96 175.11 L336.92 175.18 L337.81 175.55 L338.64 176.11 L339.49 176.58 L340.43 176.76 L341.43 176.69 L342.42 176.67 L343.33 176.95 L344.17 177.5 L345 178.07 L345.84 178.32 L346.83 178.48 L347.85 178.59 L348.74 178.95 L349.48 179.62 L350.17 180.38 L350.97 180.92 L351.86 181.07 L352.75 181.88 L353.33 182.84 L353.51 184 L354.06 185.35 L354.98 185.17 L355.85 184.71 L356.72 184.24 L357.64 184.04 L358.6 184.15 L359.58 184.31 L360.52 184.26 L361.41 183.91 L362.28 183.45 L363.18 183.14 L364.12 183.12 L365.09 183.25 L365.93 183.28 L366.87 183.44 L367.86 183.42 L368.83 183.45 L369.74 183.71 L370.61 184.16 L371.49 184.58 L372.41 184.81 L373.38 184.87 L374.35 184.93 L375.28 185.13 L376.17 185.49 L377.05 185.88 L377.95 186.15 L378.85 186.38 L379.77 186.56 L380.67 186.81 L381.53 187.17 L382.36 187.59 L383.21 187.97 L384.1 188.26 L385 188.49 L385.9 188.74 L386.77 189.06 L387.63 189.43 L388.48 189.8 L389.35 190.12 L390.24 190.4 L391.14 190.66 L392.02 190.96 L392.85 191.39 L393.66 191.85 L394.48 192.29 L395.32 192.69 L396.17 193.08 L397.02 193.47 L397.85 193.89 L398.67 194.33 L399.48 194.78 L400.31 195.2 L401.16 195.59 L402.02 195.97 L402.86 196.45 L403.68 196.98 L404.48 197.53 L405.3 198.06 L406.15 198.53 L407.02 198.96 L407.88 199.42 L408.69 199.95 L409.48 200.54 L410.27 201.1 L411.13 201.57 L412.04 202.01 L411.93 202.93 L411.71 203.83 L411.38 204.7 L411.05 205.57 L410.84 206.46 L410.77 207.39 L410.74 208.33 L410.6 209.24 L410.28 210.12 L409.87 211 L409.76 212 L409.89 213 L410.15 214 L410.28 215 L410.13 216 L409.84 217 L409.83 218.25 L410.66 218.64 L411.57 218.9 L412.43 219.23 L413 220"/>
<path stroke-width="1.25" d="M222.03 325.68 L222.84 325.07 L223.76 324.79 L224.76 324.72 L225.7 324.46 L226.54 323.96 L227.41 323.5 L228.34 323.25 L229.3 323.07 L230.21 322.74 L231.08 322.3 L231.96 321.91 L232.87 321.61 L233.78 321.32 L234.65 320.93 L235.48 320.45 L236.34 320.04 L237.25 319.75 L238.17 319.48 L239.03 319.06 L239.83 318.53 L240.69 318.12 L241.64 317.92 L242.58 317.68 L243.4 317.18 L244.17 316.56 L245.05 316.19 L246.09 316.09 L246.89 315.56 L247.36 314.69 L247.75 313.75 L248.49 313.15 L249.52 312.85 L250.32 312.32 L250.65 311.31 L250.96 310.3 L251.8 309.8 L252.96 309.63 L253.72 309.06 L253.93 307.88 L254.47 306.97 L255.46 306.86 L256.66 307.14 L257.52 306.83 L257.94 305.69 L258.42 304.67 L259.42 304.59 L260.68 304.98 L261.57 304.71 L262.02 303.5 L263.11 302.98 L263.91 303.64 L264.58 304.88 L265.45 305.23 L266.59 304.5 L267.66 304.04 L268.44 304.81 L269.11 306.03 L270.01 306.27 L271.16 305.51 L271.54 305.26 L272.68 305.31 L273.98 305.61 L274.72 305.01 L275.01 303.69 L275.59 302.85 L276.76 302.94 L277.96 303.08 L278.63 302.37 L278.99 301.16 L279.52 300.61 L280.58 300.29 L281.59 299.93 L281.97 299.07 L282.04 297.94 L282.47 297.12 L283.42 296.71 L283.93 296.42 L284.97 296.37 L286.05 296.04 L287.05 296.22 L287.97 296.82 L288.95 297.11 L289.99 296.97 L290.8 296.44 L291.75 296.25 L292.72 296.14 L293.61 295.81 L294.43 295.29 L295.28 294.87 L296.21 294.64 L297.15 294.43 L297.97 294.07 L298.91 294.29 L299.81 294.58 L300.67 295 L301.53 295.41 L302.43 295.71 L303.36 295.94 L304.25 296.25 L305.1 296.68 L306.03 297.12 L306.92 296.77 L307.78 296.34 L308.69 296.05 L309.66 295.97 L310.6 295.83 L311.47 295.4 L312.3 294.87 L313.22 294.64 L314.23 294.7 L315.18 294.58 L316 293.99 L316.77 293.39 L317.68 293.26 L318.7 293.5 L319.63 293.44 L320.38 292.77 L321.11 292.02 L322.02 291.9 L323.09 292.29 L324.05 292.32 L324.76 291.54 L325.42 290.62 L326.32 290.46 L327.43 290.97 L328.42 291.11 L329.12 290.29 L329.73 289.22 L330.62 289 L331.75 289.61 L332.78 289.88 L333.48 289.05 L334.06 287.86 L334.92 287.57 L336.07 288.23 L337.17 288.59 L337.89 287.69 L338.51 286.45 L339.45 286.28 L340.66 287.02 L341.71 287.2 L342.38 286.16 L343.04 285.04 L344.04 285.06 L345.24 285.77 L346.11 285.76 L346.92 284.78 L347.76 283.97 L348.75 284.27 L349.81 285.01 L350.75 284.94 L351.57 284.02 L352.44 283.41 L353.44 283.75 L354.47 284.3 L355.4 284.1 L356.24 283.31 L357.13 282.9 L358.12 283.2 L359.12 283.54 L360.1 283.26 L360.82 282.42 L361.69 281.96 L362.75 281.96 L363.75 281.82 L364.58 281.26 L365.38 280.62 L366.31 280.31 L367.31 280.19 L368.24 279.88 L369.09 279.35 L369.95 278.87 L370.89 278.59 L371.85 278.36 L372.76 277.98 L373.62 277.5 L374.51 277.1 L375.46 276.82 L376.4 276.54 L377.29 276.13 L378.15 275.66 L379.06 275.29 L380.02 275.04 L380.92 274.74 L381.76 274.26 L382.57 273.74 L383.46 273.4 L384.42 273.23 L385.33 272.93 L386.11 272.35 L386.78 271.86 L387.39 271.17 L388.17 270.62 L388.76 269.92 L388.99 268.98 L389.73 268.31 L390.65 268.13 L391.71 268.28 L392.63 268.08 L393.31 267.28 L394.01 266.5 L394.97 266.41 L396.09 266.73 L397 266.53 L397.63 265.56 L398.29 264.69 L399.29 264.72 L400.46 265.18 L401.37 264.95 L401.92 263.84 L402.47 262.86 L403.54 262.9 L404.8 263.34 L405.65 262.96 L406.05 261.68 L406.61 260.71 L407.72 260.86 L409 261.33 L409.81 260.87 L410.18 259.53 L410.77 258.62 L411.96 258.82 L413.07 259.56 L413.94 259.24 L414.62 258.04 L415.41 257.36 L416.47 257.84 L417.56 258.51 L418.43 258.18 L419.13 257.06 L419.93 256.45 L420.87 257 L421.68 256 L421.39 255 L420.53 254 L420.73 252.53 L421.99 252.7 L423.03 252.5 L423.63 251.5 L424.25 250.56 L425.28 250.34 L426.44 250.32 L427.27 249.76 L427.82 248.88 L428.21 248.06 L428.98 247.48 L429.73 246.9 L430.16 246.11 L430.41 245.19 L430.81 244.37 L431.46 243.73 L432.13 243.09 L432.61 242.32 L432.96 241.47 L433.38 240.67 L433.96 239.99 L434.31 239.13 L434.53 238.24 L434.64 237.33 L434.8 236.42 L435.08 235.55 L435.4 234.68 L435.63 233.8 L435.76 232.88 L435.9 232 L435.96 231.1 L436.09 230.2 L436.12 229.3 L435.98 228.4 L435.84 227.5 L435.91 226.6 L436.12 225.7 L436.21 224.8 L436 223.9 L435.77 223.1 L435.47 222.19 L435.43 221.17 L435.17 220.25 L434.45 219.52 L433.76 218.78 L433.59 217.82 L433.71 216.73 L433 216"/>
<path d="M248.97 312.98 L248.63 313.84 L248.1 314.57 L247.45 315.22 L246.94 315.88 L246.17 316.43 L245.41 316.99 L244.58 317.43 L243.71 317.78 L242.87 318.2 L242.09 318.72 L241.31 319.25 L240.48 319.68 L239.61 320.05 L238.78 320.47 L238 321 L237.13 321.32 L236.24 321.51 L235.32 321.6 L234.41 321.76 L233.55 322.1 L232.71 322.49 L231.81 322.67 L230.86 322.67 L229.94 322.79 L229.12 323.23 L228.32 323.74 L227.43 323.94 L226.46 323.85 L225.53 323.92 L224.73 324.45 L223.97 325.09 L223 325"/>
<path stroke-width="1.25" d="M322.18 292.16 L322.98 292.95 L324.04 293.68 L324.13 294.61 L323.43 295.7 L323.19 296.69 L323.95 297.48 L324.87 298.25 L324.93 299.18 L324.36 300.24 L324.23 301.21 L324.91 301.99 L325.36 303 L325.07 303.91 L324.34 304.76 L324.03 305.67 L324.34 306.67 L324.58 307.65 L324.26 308.56 L323.71 309.44 L323.52 310.36 L323.71 311.34 L323.79 312.3 L323.49 313.21 L323.11 314.11 L322.98 315.04 L323.05 315.98 L323.51 316.82 L323.78 317.74 L324.03 318.67 L324.43 319.53 L324.92 320.35 L325.34 321.21 L325.63 322.12 L325.92 323.02 L326.23 323.92 L326.61 324.8 L326.9 325.7 L327.07 326.64 L327.25 327.58 L327.59 328.47 L328.02 329.33 L328.3 330.24 L328.39 331.2 L328.54 332.15 L328.97 333.01 L329.49 333.79 L329.76 334.65 L329.75 335.61 L329.85 336.53 L330.34 337.31 L331 338.05 L331.23 339.23 L330.1 339.6 L329.2 340.2 L328.84 341.34 L328.2 342.49 L327.11 342.41 L325.97 342.2 L325.15 342.78 L324.54 343.88 L323.67 344.36 L322.46 343.98 L321.36 343.86 L320.68 344.8 L320.09 345.95 L319.08 346.07 L317.46 346 L317.22 346.91 L318.05 347.82 L318.84 348.73 L318.5 349.64 L317.47 350.55 L317.15 351.45 L317.99 352.36 L318.85 353.27 L318.56 354.18 L317.52 355.09 L318 356"/>
<path stroke-width="1.25" d="M329.7 341.4 L330.28 342.14 L331.58 341.92 L332.7 341.95 L333 343.06 L333.15 344.38 L334.06 344.67 L335.46 344.32 L336.28 344.75 L336.36 346.15 L336.74 347.17 L337.96 347.06 L339.28 346.75 L339.8 347.77 L340.1 349.17 L341.11 349.38 L342.5 348.94 L343.29 349.51 L343.58 350.92 L344.34 351.55 L345.66 351.23 L346.67 351.43 L347.1 352.62 L347.78 353.59 L348.88 353.37 L349.97 353.14 L350.73 353.82 L351.4 354.75 L352.34 354.94 L353.44 354.72 L354.34 355.02 L355.05 355.82 L355.83 356.27 L356.82 356.46 L357.75 356.76 L358.42 357.46 L359.09 358.18 L359.95 358.58 L360.88 358.88 L361.66 359.4 L362.36 360.07 L363.14 360.6 L364.02 360.98 L364.77 361.52 L365.41 362.19 L366.04 362.87 L366.77 363.43 L367.55 363.95 L368.25 364.55 L368.87 365.24 L369.53 365.88 L370.31 366.39 L371.09 367.1 L370.33 367.64 L369.51 368.12 L368.85 368.76 L368.33 369.57 L367.67 370.22 L366.78 370.62 L365.97 371.1 L365.47 371.93 L365 372.8 L364.16 373.25 L363.15 373.5 L362.5 374.17 L362.29 375.07 L362.22 376 L361.41 376.74 L360.78 377.53 L361.04 378.54 L361.48 379.59 L360.99 380.42 L359.94 381.1 L359.66 381.97 L360.31 382.93 L360.93 383.74 L360.35 384.81 L359.81 385.88 L360.54 386.66 L361.73 387.34 L361.75 388.28 L360.86 389.42 L360.83 390.37 L362.05 391.04 L362.43 391.22 L362.85 392.4 L363.21 393.67 L364.28 393.68 L365.63 393.17 L366.38 393.75 L366.66 395.18 L367.36 395.84 L368.67 395.42 L369.75 395.39 L370.2 396.52 L370.47 397.53 L371.43 397.86 L372.69 397.88 L373.29 398.57 L373.34 399.8 L373.79 400.64 L374.9 400.82 L375.9 401.1 L376.26 402.02 L376.48 403.09 L377.2 403.65 L378.25 403.89 L378.98 404.45 L379.31 405.41 L379.87 406.31 L380.86 406.42 L381.86 406.5 L382.67 407.02 L383.43 407.67 L384.32 408 L385.29 408.15 L386.18 408.5 L387 409"/>
<path d="M358.95 249.9 L360.08 249.96 L360.77 249.22 L361.32 248.22 L362.28 247.97 L363.43 248.06 L364.2 247.45 L364.75 246.44 L365.64 246.07 L366.77 246.12 L367.6 245.64 L368.18 244.69 L369.01 244.2 L370.09 244.18 L370.96 243.86 L371.6 243.07 L372.34 242.5 L373.31 242.38 L374.24 242.18 L374.96 241.56 L375.67 240.92 L376.55 240.64 L377.49 240.44 L378.28 239.97 L379.01 239.37 L379.83 238.96 L380.74 238.71 L381.57 238.33 L382.34 237.8 L383.14 237.33 L384 237 L384.88 236.71 L385.72 236.29 L386.55 235.88 L387.42 235.55 L388.3 235.26 L389.15 234.88 L389.99 234.46 L390.84 234.11 L391.73 233.82 L392.59 233.48 L393.42 233.05 L394.26 232.64 L395.15 232.37 L396.07 232.08 L396.72 231.39 L397.34 230.67 L398.12 230.13 L398.96 229.66 L399.62 228.98 L400.17 228.18 L400.92 227.61 L401.84 227.23 L402.54 226.6 L403.02 225.72 L403.7 225.06 L404.68 224.75 L405.48 224.24 L406.06 223.29 L407.04 223.62 L407.64 224.55 L408.38 225.27 L409.51 225.33 L410.5 225.62 L411.06 226.62 L411.74 227.35 L412.9 227.47 L413.87 227.84 L414.3 228.94 L414.92 229.77 L415.94 229.84 L416.73 229.2 L417.87 229.41 L418.91 229.36 L419.6 228.44 L420.37 227.74 L421.48 227.89 L422.54 227.89 L423.26 227.05 L424.02 226.31 L425.1 226.38 L426.27 226.32 L426.73 225.44 L427.16 224.52 L428.01 224.1 L429 223.83 L429.62 223.15 L430.05 222.22 L430.75 221.63 L431.7 221.32 L432.45 220.77 L432.92 220 L432.8 219 L433.07 218 L433.17 217 L433 216"/>
<path stroke-width="1.25" d="M420.61 258.2 L421.66 258.74 L422.29 259.5 L422.25 260.59 L422.32 261.62 L423.03 262.34 L423.87 263 L424.21 264.08 L423.49 264.82 L423.09 265.69 L423.05 266.69 L422.89 267.64 L422.38 268.46 L421.84 269.27 L421.57 270.19 L421.42 271.15 L421.05 272.11 L419.97 272.45 L418.96 272.92 L418.02 273.55 L417.07 273.97 L417.4 274.87 L417.78 275.75 L418.28 276.57 L418.8 277.38 L419.18 278.27 L419.48 279.19 L419.91 280.04 L420.46 280.8 L420.94 281.6 L421.2 282.5 L421.42 283.42 L421.9 284.21 L422.56 285.09 L422.11 285.94 L421.32 286.58 L420.64 287.28 L420.43 288.27 L420.28 289.29 L419.61 290 L418.65 290.54 L418.15 291.35 L418.2 292.5 L417.95 293.46 L416.95 293.97 L415.96 294.56 L415.9 295.69 L416.07 296.95 L415.26 297.65 L413.95 298.06 L413.57 299 L413.97 300.39 L413.64 300.79 L413.03 301.94 L412.76 302.98 L413.67 303.63 L414.87 304.19 L415.03 305.09 L414.31 306.28 L414.29 306.49 L414.45 307.78 L414.61 309.07 L413.62 309.54 L412.18 309.69 L411.7 310.52 L412.04 311.93 L411.77 312.91 L410.46 313.15 L409.71 313.23 L409.03 314.12 L408.46 315.31 L407.51 315.47 L406.29 314.92 L405.33 315.06 L404.72 316.14 L404.01 316.95 L402.94 316.79 L401.76 316.52 L400.99 317.13 L400.44 318.17 L399.62 318.67 L398.5 318.58 L397.52 318.76 L396.84 319.54 L396.35 320 L396.14 321 L395.74 322 L395.82 323 L396.16 324 L396.14 324.88 L396.55 325.74 L397.06 326.52 L397.78 327.12 L398.5 327.72 L399.06 328.45 L399.55 329.24 L400.12 329.96 L400.81 330.59 L401.47 331.24 L402.02 331.97 L402.8 332.48 L403.64 332.9 L404.52 333.21 L405.38 333.58 L406.17 334.08 L406.95 334.61 L407.8 334.98 L408.72 335.23 L409.56 335.62 L410.3 336.23 L411.07 336.78 L411.97 337.01 L412.65 337.75 L412.99 338.65 L413.07 339.68 L413.46 340.56 L414.28 341.22 L414.93 341.96 L414.99 343 L415.01 344.07 L415.68 344.8 L416.69 345.37 L417.08 346.25 L416.84 347.43 L417.04 348.41 L418.04 348.89 L419.12 348.71 L419.8 349.51 L420.33 350.66 L421.21 350.94 L422.44 350.42 L423.44 350.42 L423.99 351.52 L424.54 352.62 L425.57 352.57 L426.83 351.95 L427.71 352.26 L428.16 353.59 L428.8 354.46 L429.92 354.06 L431.21 354.23 L431.53 355.13 L431.21 356.5 L431.52 357.4 L432.79 357.59 L433.95 357.85 L434.11 358.87 L433.86 360.19 L434.36 360.96 L435.64 361.13 L435.85 361.24 L436.88 361.66 L437.95 362.27 L438.82 361.9 L439.56 360.89 L440.43 360.5 L441.47 360.98 L442.48 361.29 L443.31 360.74 L444.1 359.95 L445.02 359.82 L446.07 360.19 L447 360.06 L447.71 359.38 L448.43 358.71 L449.33 358.52 L450.32 358.55 L451.19 358.29 L451.94 357.69 L452.72 357.19 L453.62 357 L454.55 356.88 L455.4 356.55 L456.18 356.05 L457 355.65 L457.89 355.43 L458.79 355.22 L459.62 354.86 L460.43 354.43 L461.27 354.07 L462.15 353.83 L463.03 353.58 L463.87 353.22 L464.68 352.79 L465.52 352.44 L466.41 352.22 L467.3 352 L468.12 351.59 L468.9 351.1 L469.75 350.77 L470.68 350.65 L471.58 350.45 L472.36 349.95 L473.11 349.37 L473.99 349.11 L474.97 349.13 L475.87 348.93 L476.58 348.26 L477.3 347.6 L478.23 347.48 L479.28 347.66 L480 347"/>
<path d="M436.01 362.01 L435.31 362.65 L434.52 363.15 L433.71 363.63 L432.96 364.2 L432.28 364.85 L431.55 365.44 L430.75 365.93 L429.95 366.43 L429.23 367.04 L428.55 367.69 L427.8 368.25 L426.96 368.7 L426.17 369.21 L425.5 369.88 L424.85 370.57 L424.04 371.07 L423.07 371.27 L422.21 371.7 L421.49 372.4 L420.69 372.96 L419.7 373.11 L418.7 373.27 L417.95 373.91 L417.3 374.74 L416.41 375.1 L415.3 375.03 L414.38 375.33 L413.78 376.27 L413.1 377.06 L412.07 376.97 L411.81 378.09 L412.36 378.89 L413.43 379.5 L413.86 380.36 L413.43 381.53 L413.34 382.58 L414.29 383.24 L415.34 383.86 L415.29 385.21 L414.01 385.39 L413.37 386.05 L413.53 387.3 L413.45 388.39 L412.45 388.77 L411.18 388.96 L410.71 389.74 L410.92 391.03 L410.71 392.01 L409.59 392.31 L408.28 393.09 L408.77 394.04 L409.86 394.92 L409.87 395.94 L409.05 397.06 L409.04 398.07 L410.03 398.97 L410.49 399.92 L409.94 400.91 L408.88 400.99 L408.32 401.87 L407.85 402.9 L406.98 403.29 L405.85 403.26 L404.98 403.64 L404.44 404.56 L403.81 405.34 L402.85 405.59 L402 406"/>
<path d="M325 420.72 L326 420.22 L327 417.91 L328 417.23 L329 419.17 L330 420.84 L331 419.77 L332.8 417.86 L333.65 418.28 L333.35 420.35 L333.33 422.01 L334.62 421.8 L336.48 420.79 L337.45 421.03 L337.34 422.84 L337.34 424.48 L338.44 424.54 L340.14 423.75 L341.19 423.88 L341.29 425.38 L341.23 426.77 L342.11 427.22 L343.68 426.99 L344.71 427.29 L344.8 428.53 L344.79 429.87 L345.55 430.45 L346.86 430.47 L347.84 430.83 L348.14 431.86 L348.33 433 L349.01 433.66 L350.04 433.88 L351.04 433.87 L351.85 434.45 L352.61 435.16 L353.51 435.48 L354.52 435.45 L355.48 435.55 L356.34 435.99 L357.15 436.55 L358.04 436.88 L358.99 436.98 L359.63 436.23 L360.44 435.68 L361.34 435.23 L362.11 434.64 L362.72 433.84 L363.35 433.07 L364.19 432.55 L365 432.22 L366 432.25 L367 431.87 L368 431.62 L369 431.94 L370 432.44 L370.73 432.18 L371.73 432.59 L372.52 433.15 L372.65 434.15 L372.52 435.32 L372.93 436.13 L374.09 436.44 L375.23 436.77 L375.46 437.63 L375.16 439.04 L375.31 440.1 L376.53 440.29 L378.07 440.23 L378.66 440.93 L378.18 442.49 L377.64 443.14 L378.4 443.98 L380.12 444.72 L380.72 445.58 L379.45 446.63 L377.98 447.69 L378.34 448.57 L380.28 449.3 L381.47 450.1 L380.44 451.12 L378.58 452.22 L380 454.64 L381 452.64 L382 451.13 L383 452.4 L384 454.58 L385 454.43 L386 452.16 L385.3 452.27 L387.16 452.03 L389.29 451.91 L389.31 450.88 L387.74 449.18 L387.25 447.93 L388.96 447.63 L391.01 447.47 L389.61 447.18 L391.27 445.52 L392.47 445.26 L392.76 447.1 L392.04 448.45 L393.15 449.01 L394.99 449.25 L395.58 450.04 L394.74 451.43 L394.19 452.7 L395.1 453.35 L395.93 453.32 L396.82 452.98 L397.81 453.78 L398.81 454.52 L399.69 454.21 L400.52 453.25 L401.38 452.76 L402.34 453.15 L403.32 453.72 L404.23 453.66 L405.09 453.04 L406.19 452.61 L406.98 453.26 L407.67 454.11 L408.54 454.59 L409.58 454.72 L410.56 454.99 L411.37 455.6 L412.14 456.27 L413.04 456.69 L414.01 456.92 L415.02 456.94 L416 457.24 L416.98 457.56 L417.99 457.61 L419.02 457.47 L420.03 457.54 L420.99 457.94 L421.85 458.26 L422.78 458.58 L423.82 458.74 L424.66 459.23 L425.25 460.14 L425.91 460.93 L426.94 461.1 L428.11 461.05 L428.92 461.58 L429.34 462.77 L429.94 463.66 L431.11 463.6 L431.53 463.33 L432.38 462.9 L433.79 463.29 L434.93 463.28 L435.23 462.07 L435.26 460.47 L436.03 459.94 L437.62 460.56 L438.95 460.83 L439.23 459.59 L439.04 457.69 L439.69 456.97 L441.39 457.76 L442.2 458.61 L443.09 457.56 L443.83 455.41 L444.82 455.22 L446.09 457.19 L447.22 458.17 L448.03 456.45 L448.78 454.39 L450.47 455.02 L450.37 457.36 L450.87 458.46 L452.4 457.41 L454.06 456.09 L454.78 456.73 L455 458.4"/>
</g>
</g>
<path d="M10.6 154.4 L25 146 L34 141 L61 124.6 L83 110 L97 104.4 L96 99.4 L98 97.6 L103 98 L103.6 101.6 L105 101 L122.4 96.6 L123.6 100 L124.4 103.6 L121.6 108 L123 112 L124 115.6 L127 120 L131 123 L143.6 123 L142.4 114.4 L148 113 L152 110.4 L160 114 L170 117.6 L176 119 L179 121.6 L179 130 L181 131.6 L189 131.6 L192 133 L198 130 L204 127.6 L209 124.4 L215 124.4 L228 114 L239 101.6 L236 97 L252 96 L253 100 L259 100.6 L264.4 98 L262 92 L258.4 86 L259.6 83 L257.6 80.4 L269 75 L279.6 73.6 L280.4 76 L278.4 85 L280 86 L286 84.4 L295 86 L297 81 L303 75.6 L308 69 L312 68.6 L319 73.6 L319.6 80 L318 82 L320 86.4 L317 84.6 L311 84 L309.6 85.6 L311 88 L314 88.6 L318 88 L322 89 L326 87 L330 92 L335 87 L341 80 L343 74 L346 72 L347 75 L351.6 75.6 L355 84 L351 92 L358 101 L359.6 108 L364 110 L368 107.4 L373 111 L373 119.6 L380 120 L386 119 L388 117.4 L397 119.4 L401 115 L407 111.6 L410 112.6 L416 120 L416 128 L423 131 L430 136 L436 136.6 L443 135 L446 139 L447 143 L452 139.4 L456.4 145 L452 150 L453.5 153 L449.5 156 L448 161 L445 164 L446 170 L443 175 L444 179 L439 184 L443 186 L440 191 L435 196 L434 199 L430 202 L428 207 L428.4 210 L430 213 L432 215 L436 217 L436.6 220 L435.6 224 L434.6 227.6 L439 227.6 L441.6 227 L443 223.5 L446.2 221.5 L447.7 224 L449.7 225 L451.2 227 L454.2 226.5 L455.7 228 L457.7 225.5 L461.7 224.5 L462.8 227 L465.3 228 L468.3 226.5 L471.8 225.5 L474.8 227.5 L479.9 227 L482.9 229 L483.4 232 L482 233.6 L483 235 L484.4 233.6 L492.4 233.6 L494.4 235 L496.5 240 L500.5 246 L503 249 L503 250.7 L501 251.7 L502.5 254.7 L503.5 253.3 L508.5 253.7 L514 253.7 L515 255 L514.4 257 L512.4 259.5 L510.9 263 L508.4 264 L505.4 267 L501.9 269.6 L502.4 272.6 L504.4 273.6 L503.9 276 L506.9 278.6 L508.9 282 L511.9 281.7 L514.9 280 L520 280.7 L523.5 282.7 L526.5 283.7 L525.5 286 L526 289.7 L529 290 L530.5 293 L529.5 298 L528.5 302 L527.5 305.8 L525.5 307 L529.5 310.6 L533.6 313.6 L535 316.6 L534.6 319 L531.5 319.6 L528.5 323 L526.5 320 L523.5 318.6 L521 320 L519.5 324 L518 326.7 L519.5 329 L517 331.7 L512.4 332 L508.4 334.7 L506.4 337.7 L503.4 339 L502.4 341 L504.4 343 L505.4 347 L505.9 349.8 L500.5 351 L498.5 353.6 L500.5 356 L501 359 L498.5 361 L495.5 359.6 L496 355 L494.4 352.5 L490.4 352.5 L489.4 355 L486.4 355.6 L483.9 354 L483.4 350 L480.4 351 L475.3 352 L474.8 356 L474.3 361 L470.3 362.6 L466.3 364.6 L464.8 369 L464.3 372.7 L460.7 374.7 L460.2 377 L462.3 379.7 L461.2 382.7 L458.2 385 L455.7 386.7 L456.2 390 L458.8 392 L457.8 395 L454.8 396.5 L450.3 397.5 L449.3 400 L449.8 403 L448.3 407.6 L444.3 411.6 L447.3 413.6 L450.8 414.6 L451.3 417 L447.3 417.7 L446.8 421 L444.8 425 L446.3 429 L446.8 433.8 L451.8 433 L453.3 436 L456.3 440.8 L457.5 444 L458.5 448.5 L462.5 448 L465.6 451.6 L463 457 L464 459.6 L468.6 461.6 L469.1 466 L466 469 L464.6 473 L461.5 476.7 L462 478.7 L464 478 L463.5 481 L460.5 484 L456.5 486 L452.5 484 L450 483 L448 485.7 L447.5 488 L443.4 487.7 L441.4 488.7 L438.4 486.7 L435 485.7 L431.9 487 L429.9 489.7 L429.4 493 L428.4 496 L426.3 493.7 L422.3 491.7 L419.8 491.7 L418.3 494 L414.3 495.7 L410.2 496.7 L408.7 498 L407.7 496 L405.7 494 L408.2 492.7 L407.7 489.7 L405.2 486.7 L406.7 483 L404.2 482 L403.2 478 L400.2 474.6 L395 471.6 L391.6 469.6 L389.6 473 L386.6 474 L385 471 L387.6 467 L389 465 L385 461 L381 457 L379 457 L367 457 L366 453 L361 452.4 L359 447 L356 442 L346 438 L342 434.4 L337 434 L331 436.6 L322.4 435.6 L325 430 L323 425 L322 420 L326 416 L327 409 L322 403 L314 398.5 L316 393 L320 388 L318 383 L321 379 L320 375 L325 372 L322 368 L326 365 L328 361 L323 359 L318 357 L312 362 L305 368 L299 377 L300 385 L300 392 L284 396 L276 401 L266 404 L256 401 L248 398.6 L232 400 L231 398 L225 395 L227 392 L224 388 L227 382 L236 377 L234 371 L233 363 L225 363 L224 359 L227 353 L226 347 L229 343 L235.6 338 L234 333 L228 330 L223 332 L222 326 L214 320 L209 314.4 L200 317 L191 320 L186 317 L180 315.6 L170 316 L169 322 L166 325 L162 320 L159 311 L161 307 L160 296 L156 290 L150 284.4 L138 285 L139 278 L134 277 L132 281 L121 284 L114 280 L108 273 L107 260 L104 252 L103 246 L106 244 L105 241 L104 237 L98 236 L97 232 L92 222 L89 220 L86 220 L82 224 L79 222 L75 223 L71 226 L64 230 L61 235 L58 240 L54 239 L50 235 L45 234 L43 230 L38 226 L34 220 L31 215 L21.6 213 L20 209 L17.6 205 L18 194 L16 191 L20 181 L14.4 171 L13.6 159Z" fill="none" stroke="#222" stroke-width="1.6" stroke-linejoin="round"/>
<polygon points="329,81 331,79 334,79.5 335,82 333,85 330,85.5" fill="#1a1a1a"/>
</g>
<g transform="translate(640,0)">
<g clip-path="url(#bel)">
<rect x="0" y="60" width="560" height="447" fill="#e4f3ee"/>
<polygon points="203,125 197,142 191,153 186,160 181,168 176,175 170,183 162,188 152,187 140,187 132,188 122,189 118,185 114,177 112,172 109,166 103,162 96,164.5 91,170 89,181 92,190 96,198 102,204 104,209 102,217 102,225 108,231 116,237 124,242 134,248 144,251 148,252 151.6,258 151,270 147,277 142,283 138,292 100,292 0,250 0,90 203,90" fill="#fdcf82"/>
<polygon points="125,104 122,105 114,108 102,111 92,115 86,120 78,128 70,134 64,142 61,149 62,156 64,159 66,164 69.6,168 69,179 70,187 71,197 68,203 63,208 61,212 46,212 38,207 31,201 24,199 19,201 5,202 5,150 90,90 126,90" fill="#ea593a"/>
<polygon points="64,220 67,218 71,224 63,227" fill="#ea593a"/>
<polygon points="284,108 288,103 298,99 306,94 308,88 309,80 310,68 310,60 360,60 362,105 358,105 346,106.4 330,109 316,113 306,116 296,116.6 288,113" fill="#fdcf82"/>
<polygon points="274,196 278,193 284,194 288,198 289,205 286,210.6 279,210 275,207" fill="#fdcf82"/>
<polygon points="215,336 235,334.6 243,333 252,335 260,342 265,351 266,361 262,371 254,380 242,387 230,390 215,393" fill="#fdcf82"/>
<polygon points="344,409 352,409.6 367,419 359,429 354,433 348,430 342,425 339,420" fill="#fdcf82"/>
<polygon points="320,425 337,424 339,432 330,433.6 320,431" fill="#fdcf82"/>
<polygon points="455.6,448 460,450 470,451 470,463 467,463 460,459 457.6,453" fill="#fdcf82"/>
<polygon points="159,243 161,243 161,245.5 159,245.5" fill="#fdcf82"/>
<polygon points="359,161 362,154 370,146 376,139 382,136.4 389,138 394,143 396,150 400,156 404,160 409,167 410,175 406,183 396,186 384,186 379,187 374,191 371,185 366,181 362,173" fill="#74add1"/>
<polygon points="213,252 213,235 216,225 222,218 230,215 239,217 244,223 248,228 258,231 272,230 284,228 292,223 296,217 300,209 305,202.6 312,205 317,211 318,217 315,223 314,227 314,235 317,237 320,230 324,228 332,231 340,225 346,220 354,215 366,216 378,217 392,216 400,211 406,204 410,196 416,191 426,189 434,190 438,193 470,200 560,230 560,330 470,400 449,406 444,413 440,420 435,428 434,428.4 430,428.6 430.4,416 432,414 437,408 438,401 439,389 447,387 446,372 440,361 438,353 436,343 430,337 422,339 418,345 414,351 406,349 398,343 388,338 382,337.5 382,345 383,353 387,361 384,372 376,375 364,377 354,373 345,367 339,360 337,351 332,342 326,335 323,325 321,313 320,312 310,300 310,292 305,284 307,275 305,271 298,274 288,280 284,284.4 272,284 262,284.4 254,287 247.6,293 242,289 236,282 235,275 228,268 220,260 213,250" fill="#74add1"/>
<polygon points="385,460 398,462 406,465 412,470 415,477 414,486 416,494 412,500 400,500 380,470" fill="#74add1"/>
<polygon points="176.5,291.5 181,291 182,295 179,297 176.5,295" fill="#74add1"/>
<polygon points="362,302 372,297 380,303 385,312 382,321 375,327.6 371,324 366,312" fill="#e4f3ee"/>
<polygon points="313,231 319,231 318,236.4 314,237" fill="#e4f3ee"/>
<polygon points="450,390 457,389 459,392 452,397" fill="#e4f3ee"/>
<polygon points="471.6,265 478,257 488,252 500,253 503,256 505.6,262 498,270 489,277.6 479,278.4 475,272" fill="#313695"/>
<polygon points="461,322 466,317.6 476,314.2 487,315 496,318 502,323 505,330 504,334 496,336.6 484,335 470,333 464,330 461,325" fill="#313695"/>
<polygon points="412,265 420,260 423,264 420,268 415,267.6" fill="#313695"/>
<polygon points="294,253.5 295.5,252 297,253.5 295.5,255" fill="#313695"/>
<g fill="none" stroke="#b4b4b4" stroke-width="1.1" stroke-linejoin="round">
<path d="M124 119 L125 125 L122 134 L127 142 L117 154.4 L131 166 L132 174 L128 185 L133 188 L128 196 L135 198 L134 205 L138 209 L142 217"/>
<path d="M75 222.6 L73 221 L72 216 L64 219 L55 226 L50 227 L50 232 L53 236"/>
<path d="M96 227 L102 226 L109 228 L114 230 L117 237"/>
<path d="M134 227 L143 227 L146 233 L152 234 L157 236 L160 231 L166 225 L173 224 L176 229 L186 232 L192 231 L192 238 L198 243 L210 242 L219 239 L226 236 L233 239 L240 241 L250 235 L256 237 L264 232 L274 230 L278 234 L286 229 L293 232"/>
<path d="M256 168 L240 169 L238 177 L228 181 L227 191 L220 194 L218 198"/>
<path d="M216 213 L216 220 L208 224 L198 226 L197 231 L200 234"/>
<path d="M246 122 L250 136"/>
<path d="M373 120 L370 124 L370.4 130 L376 137 L377 142 L374 146 L369 147 L364 151 L356 155 L352 159 L344 161 L340 168"/>
<path d="M226 179 L236 178 L239 169 L246 168 L257 174 L258 171 L261 177 L272 178 L274 175 L286 179 L289 175 L300 174 L302 177 L312 169 L316 174 L330 171 L340 168 L342 163 L354 159 L360 152"/>
<path d="M340 168 L346 172 L352 171 L353 167 L359 168 L363 171 L358 174 L356 179 L352 184 L348 187 L348 192 L354 195 L364 195 L367 199 L363 204 L360 217 L356 223 L357 231 L356 239"/>
<path d="M260.8 196 L253.2 197.6 L248.2 200 L245.2 205 L245.2 210 L241.2 213 L239.6 215 L242.2 217 L246.2 218.7 L249.2 220 L249.7 223 L253.2 225.7 L258.8 227 L265.3 224 L271.3 221.7 L267.8 218.7 L270.3 214.7 L269.3 209 L264.3 206 L263.3 203.6 L264.8 201 L263.3 197 L260.8 196"/>
<path d="M293 221 L302 221 L310 218 L320 226 L330 229 L340 226 L344 231 L347 236 L356 239 L364 237 L372 235 L382 235 L390 231 L398 235 L406 233 L412 230 L420 228 L428 222 L432 218"/>
<path d="M344 231 L342 239 L343 242 L338 252 L330 257 L320 260 L308 264 L300 262"/>
<path d="M436 229 L446 230 L454 236 L462 236 L465 231"/>
<path d="M220 253 L228 250 L233 252 L235 258 L240 260 L242 265 L248 269 L252 274 L260 271 L268 272 L270 277 L282 278 L284 274 L286 270 L296 268 L297 262 L306 261 L308 264"/>
<path d="M282 278 L284 284 L287 290 L286 296 L289 301 L286 308 L287 316 L287 320 L274 322 L260 328 L248 334 L245 337 L252 341 L260 342 L259 351 L255 356 L259 363 L259 373 L262 383 L263 393 L267 402"/>
<path d="M343 260 L347 268 L350 277 L358 282 L364 287 L370 290 L375 302 L382 309 L388 310 L395 308 L398 311 L396 317 L394 322 L396 328 L390 335 L378 339 L372 344"/>
<path d="M398 300 L402 299 L408 303 L412 301"/>
<path d="M418 306 L424 305 L429 311 L439 314 L440 321 L444 325 L443 332"/>
<path d="M459 317 L472 318 L480 321 L482 330 L483 349"/>
<path d="M459 317 L460 326 L462 330 L448 333 L441 331 L440 323"/>
<path d="M376 347 L380 357 L378 366 L366 370 L352 371 L351 365"/>
<path d="M352 371 L348 379 L340 384 L344 392 L354 399 L358 407 L352 412 L347 419 L341 426 L339 433"/>
</g>
<g fill="none" stroke="#0000ff" stroke-width="1.1" stroke-linejoin="round">
<path d="M34.11 139.83 L34.75 140.49 L35.39 141.17 L36.11 141.71 L36.95 142.07 L37.83 142.37 L38.65 142.77 L39.34 143.36 L39.96 144.07 L40.6 144.72 L41.37 145.2 L42.25 145.51 L43.17 145.83 L43.84 146.44 L44.35 147.22 L44.8 148.05 L45.36 148.78 L46.09 149.33 L46.93 149.78 L47.7 150.3 L48.31 150.98 L48.77 151.8 L49.25 152.61 L49.88 153.26 L50.67 153.76 L51.49 154.22 L52.28 154.99 L52.16 155.92 L51.93 156.86 L51.82 157.79 L51.94 158.72 L52.21 159.64 L52.41 160.56 L52.4 161.49 L52.22 162.43 L52.06 163.36 L52.08 164.29 L52.27 165.22 L52.5 166.14 L52.58 167.07 L52.47 168.04 L51.79 168.72 L51.2 169.45 L50.75 170.28 L50.36 171.15 L49.92 171.98 L49.36 172.73 L48.72 173.43 L48.12 174.15 L47.61 174.94 L47.18 175.78 L46.74 176.61 L46.22 177.39 L45.63 178.12 L45.03 178.85 L44.49 179.62 L44.02 180.43 L43.56 181.25 L43.02 182.07 L42.08 182.25 L41.14 182.41 L40.2 182.59 L39.28 182.82 L38.36 183.08 L37.44 183.33 L36.51 183.53 L35.57 183.71 L34.64 183.9 L33.71 184.12 L32.79 184.36 L31.86 184.6 L30.93 184.81 L30 185 L29.14 185.44 L28.29 185.9 L27.46 186.38 L26.63 186.87 L25.79 187.34 L24.93 187.78 L24.07 188.21 L23.21 188.65 L22.37 189.13 L21.55 189.64 L20.72 190.13 L19.86 190.57 L19 191"/>
<path d="M88.13 220.4 L89.02 220.22 L89.72 219.44 L90.4 218.64 L91.28 218.42 L92.33 218.7 L93.33 218.84 L94.11 218.34 L94.77 217.44 L95.53 216.86 L96.5 216.94 L97.56 217.25 L98.46 217.1 L99.16 216.34 L99.71 215.61 L100.48 215.08 L101.58 214.98 L102.57 214.74 L103.16 213.97 L103.57 212.94 L104.21 212.24 L105.21 212.01 L106.24 211.82 L106.97 211.23 L107.44 210.29 L108 209.48 L108.88 209.08 L109.89 208.87 L110.71 208.41 L111.28 207.6 L111.8 206.8 L112.49 206.18 L113.38 205.76 L114.19 205.27 L114.77 204.55 L115.25 203.71 L115.85 203 L116.63 202.48 L117.44 201.99 L118.11 201.35 L118.66 200.59 L119.24 199.86 L119.94 199.26 L120.7 198.72 L121.41 198.12 L122.02 197.43 L122.76 196.81 L123.56 196.26 L124.4 195.79 L125.24 195.3 L126.02 194.73 L126.78 194.13 L127.57 193.57 L128.4 193.07 L129.23 192.59 L130.04 192.03 L130.56 191.27 L131.09 190.53 L131.68 189.83 L132.32 189.17 L132.93 188.49 L133.45 187.73 L133.95 186.92 L134.78 186.41 L135.68 186.03 L136.58 185.63 L137.37 185.07 L138.1 184.39 L138.9 183.84 L139.84 183.51 L140.78 183.2 L141.58 182.63 L142.26 181.87 L143.02 181.25 L143.98 180.96 L145.02 180.82 L145.89 180.33 L146.59 179.51 L147.38 178.87 L148.41 178.72 L149.5 178.67 L150.37 178.18 L151.02 177.27 L151.53 176.91 L152.12 175.98 L152.85 175.09 L152.95 174.07 L152.53 172.95 L152.69 171.56 L153.74 171.39 L154.85 171.3 L155.59 170.69 L156 169.62 L156.54 168.74 L157.53 168.48 L158.69 168.46 L159.54 168 L160.01 166.97 L161.11 166.63 L162.06 167.11 L162.92 168 L163.9 168.31 L164.94 167.92 L165.37 167 L166.21 166.59 L167.3 166.49 L168.19 166.13 L168.69 165.29 L169.06 164.29 L170.11 163.55 L170.89 164.2 L171.68 164.85 L172.58 165.01 L173.58 164.78 L174.54 164.71 L175.39 165.12 L176.17 165.76 L177.02 166.13 L177.91 166.01 L178.4 166.97 L178.48 167.97 L178.26 169.01 L178.24 170.03 L178.57 171.01 L178.95 171.98 L179.03 172.98 L178.96 174.07 L179.8 174.6 L180.73 174.93 L181.68 175.24 L182.55 175.71 L183.36 176.29 L184.2 176.79 L185.11 177.18 L185.98 177.54 L186.85 177.22 L187.75 176.98 L188.65 176.72 L189.51 176.39 L190.37 176.01 L191.23 175.67 L192.12 175.39 L193.02 175.14 L193.89 174.84 L194.75 174.47 L195.6 174.1 L196.48 173.8 L197.39 173.57 L198.28 173.31 L199.14 172.95 L200.02 172.52 L200.94 172.7 L201.82 173.03 L202.69 173.39 L203.61 173.59 L204.56 173.63 L205.5 173.72 L206.39 174.03 L207.24 174.5 L208.13 174.8 L209.09 174.8 L209.81 174.83 L210.47 174.12 L211.37 173.63 L212.17 173.05 L212.63 172.17 L212.96 171.17 L213.56 170.41 L214.51 169.96 L215.42 169.47 L215.9 168.61 L216.14 167.53 L216.89 166.55 L217.88 166.73 L218.89 166.99 L219.77 166.75 L220.53 166 L221.31 165.36 L222.25 165.35 L223.29 165.72 L224.25 165.78 L224.91 165.15 L226.11 165.08 L226.98 165.59 L227.52 166.68 L228.2 167.52 L229.3 167.63 L230.5 167.56 L231.35 168.11 L232.23 168.96 L232.42 167.98 L231.91 167.12 L231.14 166.3 L230.87 165.39 L231.23 164.39 L231.57 163.38 L231.29 162.48 L230.58 161.65 L230.12 160.77 L230.27 159.8 L230.63 158.79 L230.57 157.85 L230.01 157.01 L230.55 156.13 L231.4 155.66 L232.43 155.47 L233.32 155.07 L233.95 154.3 L234.52 153.46 L235.29 152.9 L236.25 152.59 L237.04 152.26 L237.94 152.02 L238.82 151.63 L239.72 151.41 L240.66 151.45 L241.6 151.52 L242.52 151.4 L243.42 151.11 L244.32 150.87 L245.24 150.79 L246.17 150.8 L247.1 150.73 L248 150.5"/>
<path d="M170.09 171.06 L169.27 171.59 L168.62 172.24 L168.24 173.08 L168.01 174.03 L167.68 174.91 L167.09 175.6 L166.29 176.14 L165.52 176.7 L164.98 177.43 L164.67 178.32 L164.41 179.25 L163.98 180.05 L163.3 180.68 L162.51 181.23 L161.83 181.85 L161.38 182.65 L161.09 183.55 L160.76 184.43 L160.28 185 L160.02 186 L159.75 187 L159.74 188 L159.98 189 L160.22 190 L160.18 190.86 L160.6 191.69 L161.01 192.53 L161.54 193.28 L162.22 193.91 L162.94 194.51 L163.58 195.17 L164.1 196.05 L163.43 196.96 L162.86 197.93 L162.46 198.98 L162.07 200.07 L161.42 200.75 L160.69 201.36 L159.95 201.95 L159.26 202.6 L158.64 203.3 L158.03 204.03 L157.39 204.72 L156.7 205.37 L155.99 205.99 L155.29 206.62 L154.64 207.3 L154.01 208 L153.41 208.78 L152.78 209.52 L152.12 210.25 L151.47 210.98 L150.85 211.73 L150.25 212.5 L149.65 213.27 L149.02 214.03 L148.18 214.46 L147.35 214.88 L146.52 215.32 L145.72 215.8 L144.92 216.3 L144.12 216.78 L143.29 217.21 L142.44 217.61 L141.6 218.03 L140.79 218.5 L140.01 219.01 L139.4 219.73 L138.72 220.39 L138 221 L137.26 221.59 L136.59 222.25 L135.99 222.99 L135.41 223.74 L134.77 224.44 L134.03 225.03 L133.25 225.59 L132.54 226.2 L131.95 226.93 L131.33 227.62 L130.67 228.26 L129.91 228.76 L129.06 229.15 L128.23 229.55 L127.5 230.1 L126.89 230.8 L126.31 231.53 L125.62 232.13 L124.79 232.54 L123.9 232.87 L123.05 233.39 L122.4 234.13 L121.85 235 L121.22 235.76 L120.37 236.27 L119.41 236.64 L118.52 237.1 L117.77 237.97 L118 239.02 L118.09 240.05 L117.8 241.03 L117.27 241.98 L116.9 242.94 L116.92 243.97 L117.17 245 L117.4 246 L117.23 247 L116.83 248 L116.6 249 L116.81 250.12 L117.64 250.75 L118.34 251.47 L118.71 252.37 L118.89 253.4 L119.18 254.36 L119.77 255.14 L120.58 255.79 L121.3 256.49 L121.74 257.36 L121.95 258.36 L122.23 259.33 L122.79 260.18 L123.65 260.71 L124.49 261.27 L125.11 262 L125.56 262.9 L126 263.8 L126.62 264.54 L127.42 265.12 L128.24 265.69 L128.91 266.39 L129.41 267.23 L129.84 267.98 L129.64 268.9 L129.63 269.84 L129.68 270.8 L129.62 271.74 L129.39 272.66 L129.08 273.56 L128.85 274.48 L128.75 275.41 L128.74 276.36 L128.69 277.3 L128.53 278.23 L128.29 279.14 L128.06 280.06 L128 281"/>
<path d="M216.67 166.92 L216.57 167.84 L216.64 168.8 L216.63 169.74 L216.37 170.62 L215.89 171.44 L215.42 172.27 L215.17 173.15 L215.15 174.09 L215.18 175.05 L215 175.99 L214.57 176.85 L214.05 177.69 L213.66 178.56 L213.5 179.5 L213.45 180.48 L213.31 181.43 L212.97 182.32 L212.5 183.17 L212.08 184.03 L211.85 185.05 L212.31 185.9 L212.75 186.75 L213.04 187.65 L213.21 188.6 L213.39 189.54 L213.67 190.44 L214.07 191.31 L214.48 192.17 L214.81 193.06 L215.04 193.98 L215.32 194.9 L215.66 195.79 L216.08 196.64 L216.53 197.49 L216.94 198.35 L217.29 199.23 L217.61 200.13 L217.95 200.97 L217.55 201.81 L217.17 202.67 L216.79 203.52 L216.37 204.35 L215.92 205.17 L215.47 205.99 L215.05 206.82 L214.66 207.66 L214.27 208.51 L213.86 209.35 L213.43 210.18 L212.99 210.99 L212.14 211.43 L211.3 211.9 L210.47 212.4 L209.64 212.88 L208.79 213.34 L207.92 213.76 L207.05 214.18 L206.21 214.65 L205.39 215.16 L204.57 215.67 L203.73 216.14 L202.85 216.54 L201.96 216.93 L201.12 217.33 L200.32 217.81 L199.54 218.32 L198.72 218.78 L197.86 219.13 L196.97 219.43 L196.1 219.78 L195.29 220.25 L194.52 220.8 L193.74 221.32 L192.9 221.71 L191.98 221.99 L191.39 222.73 L190.93 223.55 L190.62 224.44 L190.34 225.36 L189.93 226.2 L189.34 226.94 L188.67 227.65 L188.13 228.42 L187.8 229.3 L187.57 230.25 L187.27 231.1 L186.84 231.95 L186.25 232.74 L185.72 233.56 L185.45 234.47 L185.38 235.46 L185.28 236.44 L184.93 237.32 L184.33 238.11 L183.74 238.88 L183.33 239.72 L183.17 240.66 L183.07 241.64 L182.77 242.53 L182.21 243.29 L181.53 244 L180.99 244.78 L180.73 245.68 L180.64 246.66 L180.46 247.6 L180.01 248.42 L179.35 249.14 L178.75 249.83 L178.25 250.58 L177.95 251.47 L177.69 252.38 L177.27 253.18 L176.62 253.83 L175.88 254.42 L175.25 255.08 L174.96 255.79 L174.09 256.22 L173.21 256.59 L172.29 256.73 L171.33 256.68 L170.38 256.62 L169.46 256.76 L168.57 257.11 L167.7 257.49 L166.79 257.73 L165.85 257.76 L164.9 257.73 L163.93 257.81 L163.07 258.22 L162.24 258.72 L161.39 259.16 L160.49 259.45 L159.55 259.64 L158.62 259.87 L157.74 260.22 L156.89 260.67 L156.04 261.1 L155.15 261.43 L154.23 261.68 L153.31 261.93 L152.41 262.25 L151.55 262.64 L150.68 263.05 L149.8 263.4 L148.9 263.69 L147.98 263.97 L147.1 264.45 L146.24 264.98 L145.39 265.52 L144.52 266.04 L143.63 266.52 L142.74 266.98 L141.86 267.47 L141 268"/>
<path d="M174.86 256.25 L175.76 256.61 L176.74 256.84 L177.67 257.14 L178.48 257.68 L179.2 258.37 L179.96 258.99 L180.83 259.41 L181.79 259.66 L182.72 259.95 L183.56 260.44 L184.31 261.08 L185.06 261.71 L185.88 262.16 L186.74 262.6 L187.6 263.04 L188.37 263.6 L189.03 264.29 L189.67 265.01 L190.39 265.64 L191.21 266.14 L192.05 266.6 L192.84 267.13 L193.55 267.77 L194.22 268.46 L194.89 268.93 L194.43 269.7 L194.02 270.51 L193.58 271.3 L193.08 272.05 L192.51 272.76 L191.95 273.46 L191.43 274.2 L190.97 274.98 L190.6 275.87 L190.2 276.74 L189.74 277.59 L189.27 278.42 L188.81 279.26 L188.4 280.13 L188 281"/>
<path d="M240.01 101.37 L241.02 101.75 L242 102.19 L242.98 102.65 L243.94 103 L244.06 104 L244.19 105 L244.25 106 L244.22 107 L244.18 108.01 L244.24 109.01 L244.41 109.99 L245.18 110.53 L245.89 111.15 L246.51 111.86 L247.11 112.6 L247.78 113.26 L248.56 113.8 L249.38 114.28 L250.2 115.08 L249.73 115.92 L249.15 116.71 L248.65 117.53 L248.36 118.44 L248.21 119.41 L248 120.36 L247.57 121.21 L246.98 122.05 L247.76 122.63 L248.65 122.99 L249.63 123.11 L250.61 123.24 L251.5 123.59 L252.27 124.21 L253.02 124.88 L253.9 125.33 L254.89 125.38 L255.9 125.33 L256.85 125.5 L257.7 126 L258.51 126.64 L259.37 127.09 L260.21 126.93 L260.26 128.07 L260.07 129.13 L259.47 130.04 L258.83 130.78 L258.04 131.23 L257.44 131.95 L256.93 132.78 L256.33 133.5 L255.52 133.94 L254.59 134.21 L253.7 134.54 L252.98 135.1 L252.44 135.88 L251.9 136.68 L251.35 136.95 L251.24 137.99 L251.04 139.04 L251.1 140.05 L251.49 141.01 L251.95 141.97 L252.16 142.96 L252.05 144.03 L251.31 144.76 L250.76 145.62 L250.46 146.6 L250.18 147.6 L249.71 148.49 L249.03 149.27 L248.34 150.03 L247.99 150.8 L247.06 151.02 L246.14 151.27 L245.21 151.39 L244.27 151.34 L243.33 151.24 L242.39 151.24 L241.46 151.38 L240.54 151.58 L239.61 151.73 L238.67 151.76 L237.73 151.71 L236.79 151.7 L235.86 151.78 L234.93 151.93 L234.05 152.04 L233.49 152.76 L232.87 153.44 L232.25 154.12 L231.67 154.82 L231.12 155.55 L230.59 156.3 L230.04 156.97 L230.62 157.78 L231.19 158.61 L231.77 159.42 L232.38 160.22 L233.01 161 L232.82 161.9 L232.59 162.79 L232.33 163.67 L232.07 164.55 L231.85 165.43 L231.66 166.33 L231.48 167.23 L231.28 168.12 L230.98 169.02 L230.31 168.4 L229.62 167.8 L228.89 167.24 L228.13 166.73 L227.38 166.21 L226.66 165.64 L226 165"/>
<path d="M248.19 150.85 L248.64 151.66 L249.02 152.53 L249.49 153.32 L250.15 153.96 L250.94 154.51 L251.66 155.1 L252.09 155.77 L252.85 156.39 L253.6 156.99 L254.45 157.35 L255.41 157.47 L256.39 157.54 L257.28 157.82 L258.05 158.38 L258.77 159.06 L259.57 159.57 L260.49 159.77 L261.49 159.79 L262.43 159.93 L263.25 160.38 L264.01 161.07 L265.05 161.25 L266.04 161.05 L266.99 160.55 L267.95 160.12 L268.96 160.08 L270.01 160.33 L271.05 160.5 L272.19 160.21 L272.63 159.35 L273.1 158.53 L273.77 157.92 L274.62 157.51 L275.51 157.14 L276.24 156.6 L276.78 155.84 L277.22 154.99 L277.77 154.25 L278.51 153.72 L279.37 153.32 L280.19 152.88 L280.85 152.26 L281.36 151.47 L281.85 150.67 L282.48 150.02 L283.26 149.53 L284.13 149.04 L284.53 148.22 L284.72 147.34 L284.81 146.41 L284.95 145.51 L285.25 144.66 L285.7 143.85 L286.08 143.12 L286.85 142.65 L287.54 142.06 L288.2 141.43 L288.91 140.87 L289.7 140.42 L290.52 140.03 L291.32 139.6 L292.02 139.1 L292.89 138.82 L293.76 138.54 L294.65 138.34 L295.55 138.22 L296.45 138.1 L297.35 137.94 L298.23 137.72 L299.11 137.47 L299.99 137.24 L300.88 137.07 L301.78 136.92 L302.68 136.77 L303.56 136.59 L304.45 136.37 L305.33 136.14 L306.21 135.94 L307.11 135.77 L307.99 135.62 L308.99 135.99 L309.99 136.32 L311.01 136.63 L312 136.95 L312.91 136.94 L313.82 136.95 L314.73 136.95 L315.64 136.9 L316.54 136.81 L317.45 136.71 L318.36 136.68 L319.27 136.7 L320.18 136.74 L321.09 136.73 L322.01 136.64 L322.89 136.21 L323.78 135.83 L324.71 135.56 L325.66 135.36 L326.6 135.11 L327.49 134.72 L328.34 134.24 L329.21 133.81 L330.14 133.54 L331.11 133.39 L332.13 133.17 L332.83 132.59 L333.44 131.89 L334.05 131.19 L334.77 130.63 L335.61 130.23 L336.48 129.88 L337.26 129.41 L337.9 128.75 L338.46 127.98 L339.09 127.3 L339.92 126.79 L340.92 126.74 L341.89 126.63 L342.76 126.26 L343.55 125.64 L344.33 125.04 L345.22 124.7 L346.21 124.64 L347.22 124.61 L347.84 124.32 L348.85 124.51 L349.91 124.63 L350.83 125 L351.59 125.7 L352.31 126.48 L353.16 127.01 L354.18 127.2 L355.24 127.3 L356.13 127.64 L356.97 128.24 L357.77 128.93 L358.67 129.36 L359.7 129.44 L360.75 129.42 L361.6 130"/>
<path d="M284.12 149.24 L284.99 148.48 L285.88 147.76 L286.92 147.34 L287.94 147.09 L288.67 147.73 L289.52 148.17 L290.44 148.51 L291.31 148.9 L291.92 149.46 L292.81 149.18 L293.68 148.86 L294.48 148.42 L295.21 147.86 L296.05 147.3 L296.94 147.72 L297.77 148.26 L298.59 148.83 L299.45 149.3 L300.36 149.68 L301.28 150.04 L302.17 150.47 L303.02 150.98 L303.71 151.79 L304.45 152.55 L305.24 153.26 L306.04 153.98 L306.45 154.98 L306.8 156 L307.16 157.02 L307.57 158.01 L308.01 158.99 L308.74 159.6 L309.45 160.23 L310.14 160.89 L310.83 161.54 L311.55 162.17 L312.28 162.77 L312.99 163.36 L313.91 163.15 L314.83 162.99 L315.76 162.84 L316.68 162.66 L317.59 162.43 L318.49 162.16 L319.4 161.92 L320.32 161.75 L321.26 161.63 L322.19 161.5 L323.1 161.28 L323.99 160.98 L324.84 160.58 L325.71 160.27 L326.62 160.06 L327.54 159.87 L328.43 159.58 L329.27 159.17 L330.08 158.7 L330.93 158.32 L331.84 158.1 L332.78 157.97 L333.7 157.77 L334.55 157.4 L335.35 156.88 L336.17 156.4 L337.05 156.11 L338.01 156 L338.45 155.17 L338.71 154.29 L338.73 153.35 L338.69 152.39 L338.8 151.48 L339.18 150.63 L339.7 149.81 L340.11 148.97 L340.17 148.17 L340.66 147.16 L341.24 146.24 L342.11 145.61 L342.96 145.19 L343.85 145.54 L344.79 145.56 L345.77 145.37 L346.73 145.29 L347.64 145.54 L348.49 146.05 L349.35 146.52 L350.27 146.68 L351.24 146.54 L352.22 146.36 L353.15 146.46 L353.96 146.89 L354.98 146.9 L355.91 146.7 L356.73 146.16 L357.49 145.49 L358.31 144.98 L359.26 144.79 L360.27 144.79 L361.23 144.66 L362.07 144.24 L362.87 143.67 L363.69 143.17 L364.59 142.93 L365.55 142.92 L366.52 142.91 L367.42 142.68 L368.24 142.21 L369.06 141.69 L370.02 141.33 L370.94 141.53 L371.86 141.83 L372.79 142 L373.72 141.96 L374.67 141.8 L375.61 141.71 L376.54 141.81 L377.47 142.04 L378.39 142.24 L379.32 142.29 L380.27 142.21 L381.21 142.12 L382.14 142.15 L383.07 142.3 L383.96 142.47 L384.78 142.94 L385.64 143.32 L386.52 143.66 L387.38 144.05 L388.19 144.52 L388.98 145.01 L389.54 145.84 L390.16 146.63 L390.81 147.39 L391.44 148.17 L392 149"/>
<path d="M263.66 161 L263.79 162 L264.12 163 L264.33 164 L264.2 165 L263.88 166 L263.73 167.17 L264.32 167.91 L265.07 168.56 L265.74 169.25 L266.2 170.08 L266.48 171.01 L266.79 171.93 L267.3 172.73 L267.98 173.41 L268.67 174.1 L269.21 174.9 L269.48 175.83 L269.72 176.78 L270.09 177.67 L270.64 178.46 L271.25 179.23 L271.74 180.06 L272.06 181.06 L271.18 181.68 L270.39 182.39 L269.72 183.22 L269.07 184.06 L268.5 184.78 L267.84 185.43 L267.16 186.06 L266.52 186.73 L265.95 187.46 L265.42 188.22 L264.86 188.95 L264.25 189.64 L263.6 190.3 L262.95 190.98 L262.66 191.84 L262.42 192.71 L262.18 193.58 L261.9 194.44 L261.59 195.29 L261.27 196.14 L260.96 196.99 L260.69 197.85 L260.43 198.72 L260.17 199.58 L259.89 200.44 L259.58 201.29 L259.26 202.14 L258.97 202.98 L258.44 203.72 L257.92 204.46 L257.4 205.21 L256.84 205.93 L256.27 206.63 L255.69 207.34 L255.14 208.06 L254.63 208.81 L254.13 209.57 L253.6 210.31 L253.02 211.02 L252.47 211.73 L251.93 212.45 L251.45 213.22 L251.02 214.01 L250.58 214.81 L250.08 215.56 L249.51 216.26 L248.92 216.94 L248.39 217.67 L247.95 218.47 L247.57 219.3 L247.16 219.96 L247.34 220.98 L247.41 222.02 L247.56 223.05 L247.95 223.92 L247.29 224.63 L246.59 225.26 L245.77 225.73 L244.88 226.09 L244.02 226.49 L243.27 227.07 L242.64 227.8 L241.99 228.51 L241.22 229.05 L240.32 229.4 L239.4 229.73 L238.6 230.23 L237.93 230.97 L237.84 231.99 L237.56 232.93 L237 233.77 L236.35 234.56 L235.87 235.42 L235.7 236.41 L235.65 237.44 L235.41 238.4 L234.87 239.24 L234.19 240.02 L233.8 240.71 L233.12 241.39 L232.54 242.2 L231.89 242.9 L231.06 243.35 L230.11 243.63 L229.2 243.97 L228.46 244.54 L227.85 245.32 L227.24 246.08 L226.48 246.63 L225.57 246.96 L224.63 247.27 L223.81 247.76 L223.22 248.49 L222.68 249.27 L222.04 249.95 L221.25 250.42 L220.37 250.79 L219.55 251.22 L218.87 251.84 L218.29 252.58 L217.7 253.31 L217 253.89 L216.17 254.32 L215.33 254.74 L214.58 255.26 L213.91 255.97 L213.8 256.89 L213.61 257.77 L213.26 258.61 L212.83 259.42 L212.43 260.24 L212.16 261.1 L211.98 262.01 L212.59 262.75 L213.11 263.53 L213.53 264.38 L213.94 265.24 L214.41 266.06 L214.96 266.82 L215.54 267.58 L216.07 268.36 L216.54 269.17 L216.98 270.02 L217.67 270.76 L218.4 271.46 L219.16 272.13 L219.89 272.82 L220.59 273.55 L221.27 274.3 L222 275"/>
<path d="M263.99 167.02 L264.87 167.44 L265.71 167.92 L266.51 168.48 L267.31 169.04 L268.13 169.56 L268.99 170.02 L269.85 170.47 L270.7 170.95 L271.51 171.48 L272.32 172.02 L273.14 172.54 L273.99 173.02 L274.92 173.35 L275.83 173.69 L276.74 174.07 L277.63 174.47 L278.53 174.86 L279.44 175.21 L280.37 175.53 L281.29 175.87 L282.19 176.24 L283.09 176.65 L283.99 177.05 L284.9 177.23 L285.82 177.36 L286.74 177.48 L287.65 177.66 L288.55 177.9 L289.44 178.16 L290.34 178.37 L291.26 178.5 L292.19 178.57 L293.12 178.69 L294.05 178.94 L294.75 179.6 L295.47 180.23 L296.27 180.76 L297.14 181.19 L297.99 181.64 L298.76 182.21 L299.43 182.91 L300.11 183.6 L300.8 184.02 L301.07 184.92 L301.36 185.82 L301.5 186.73 L301.42 187.66 L301.25 188.6 L301.21 189.53 L301.42 190.43 L301.78 191.32 L302.06 192.22 L302.07 193.15 L301.87 194.09 L301.7 194.96 L301.59 195.96 L301.78 197 L301.95 198.04 L301.8 199.04 L301.34 200 L300.91 200.96 L300.82 201.96 L301.04 203.03 L300.63 203.96 L299.98 204.67 L299.09 205.18 L298.2 205.68 L297.55 206.4 L297.16 207.34 L296.79 208.3 L296.19 209.06 L295.33 209.6 L294.42 210.08 L293.62 210.97 L293.81 211.92 L294.1 212.88 L294.18 213.83 L293.92 214.75 L293.51 215.66 L293.24 216.57 L293.29 217.52 L293.55 218.47 L293.72 219.42 L293.6 220.35 L293.25 221.27 L292.93 222.18 L292.85 223.11 L293.02 224.06 L293.2 224.92 L293.64 225.9 L293.82 226.99 L293.99 228.08 L294.42 229.07 L295.03 230.02 L294.58 230.88 L293.97 231.61 L293.25 232.25 L292.54 232.9 L291.96 233.65 L291.48 234.49 L291.01 235.32 L290.45 236.09 L289.78 236.77 L289.1 237.45 L288.49 238.18 L287.95 238.98 L287.72 239.89 L287.42 240.77 L287.05 241.62 L286.64 242.46 L286.27 243.31 L285.95 244.18 L285.67 245.07 L285.38 245.95 L285.05 246.82 L284.67 247.67 L284.3 248.52 L283.96 249.38 L283.65 250.26 L283.36 251.14 L283.04 252.02 L282.51 253.01 L281.99 253.98 L281.15 254.47 L280.33 254.99 L279.51 255.52 L278.69 256.04 L277.84 256.52 L276.98 256.97 L276.14 257.45 L275.32 257.97 L274.52 258.53 L273.71 259.07 L272.86 259.54 L271.98 259.97 L271.07 260.35 L270.19 260.83 L269.35 261.37 L268.5 261.89 L267.59 262.3 L266.64 262.62 L265.71 262.97 L264.84 263.46 L264.06 264.02 L263.78 265.07 L263.29 266.04 L262.69 266.96 L262.19 267.92 L262 269"/>
<path d="M301 183.58 L301.91 183.34 L302.83 183.14 L303.75 182.96 L304.68 182.77 L305.59 182.55 L306.5 182.3 L307.41 182.04 L308.32 181.82 L309.25 181.64 L310.18 181.48 L311.1 181.28 L312.01 181.02 L312.86 180.7 L313.73 180.41 L314.61 180.2 L315.51 180.04 L316.41 179.86 L317.27 179.59 L318.12 179.24 L318.97 178.88 L319.84 178.62 L320.74 178.47 L321.66 178.36 L322.55 178.17 L323.4 177.83 L324.22 177.41 L325.07 177.05 L325.97 176.86 L326.91 176.85 L327.85 176.81 L328.74 176.6 L329.6 176.21 L330.45 175.79 L331.34 175.55 L332.28 175.53 L333.24 175.59 L334.17 175.5 L334.96 175.15 L335.96 175.11 L336.92 175.18 L337.81 175.55 L338.64 176.11 L339.49 176.58 L340.43 176.76 L341.43 176.69 L342.42 176.67 L343.33 176.95 L344.17 177.5 L345 178.07 L345.84 178.32 L346.83 178.48 L347.85 178.59 L348.74 178.95 L349.48 179.62 L350.17 180.38 L350.97 180.92 L351.86 181.07 L352.75 181.88 L353.33 182.84 L353.51 184 L354.06 185.35 L354.98 185.17 L355.85 184.71 L356.72 184.24 L357.64 184.04 L358.6 184.15 L359.58 184.31 L360.52 184.26 L361.41 183.91 L362.28 183.45 L363.18 183.14 L364.12 183.12 L365.09 183.25 L365.93 183.28 L366.87 183.44 L367.86 183.42 L368.83 183.45 L369.74 183.71 L370.61 184.16 L371.49 184.58 L372.41 184.81 L373.38 184.87 L374.35 184.93 L375.28 185.13 L376.17 185.49 L377.05 185.88 L377.95 186.15 L378.85 186.38 L379.77 186.56 L380.67 186.81 L381.53 187.17 L382.36 187.59 L383.21 187.97 L384.1 188.26 L385 188.49 L385.9 188.74 L386.77 189.06 L387.63 189.43 L388.48 189.8 L389.35 190.12 L390.24 190.4 L391.14 190.66 L392.02 190.96 L392.85 191.39 L393.66 191.85 L394.48 192.29 L395.32 192.69 L396.17 193.08 L397.02 193.47 L397.85 193.89 L398.67 194.33 L399.48 194.78 L400.31 195.2 L401.16 195.59 L402.02 195.97 L402.86 196.45 L403.68 196.98 L404.48 197.53 L405.3 198.06 L406.15 198.53 L407.02 198.96 L407.88 199.42 L408.69 199.95 L409.48 200.54 L410.27 201.1 L411.13 201.57 L412.04 202.01 L411.93 202.93 L411.71 203.83 L411.38 204.7 L411.05 205.57 L410.84 206.46 L410.77 207.39 L410.74 208.33 L410.6 209.24 L410.28 210.12 L409.87 211 L409.76 212 L409.89 213 L410.15 214 L410.28 215 L410.13 216 L409.84 217 L409.83 218.25 L410.66 218.64 L411.57 218.9 L412.43 219.23 L413 220"/>
<path stroke-width="1.25" d="M222.03 325.68 L222.84 325.07 L223.76 324.79 L224.76 324.72 L225.7 324.46 L226.54 323.96 L227.41 323.5 L228.34 323.25 L229.3 323.07 L230.21 322.74 L231.08 322.3 L231.96 321.91 L232.87 321.61 L233.78 321.32 L234.65 320.93 L235.48 320.45 L236.34 320.04 L237.25 319.75 L238.17 319.48 L239.03 319.06 L239.83 318.53 L240.69 318.12 L241.64 317.92 L242.58 317.68 L243.4 317.18 L244.17 316.56 L245.05 316.19 L246.09 316.09 L246.89 315.56 L247.36 314.69 L247.75 313.75 L248.49 313.15 L249.52 312.85 L250.32 312.32 L250.65 311.31 L250.96 310.3 L251.8 309.8 L252.96 309.63 L253.72 309.06 L253.93 307.88 L254.47 306.97 L255.46 306.86 L256.66 307.14 L257.52 306.83 L257.94 305.69 L258.42 304.67 L259.42 304.59 L260.68 304.98 L261.57 304.71 L262.02 303.5 L263.11 302.98 L263.91 303.64 L264.58 304.88 L265.45 305.23 L266.59 304.5 L267.66 304.04 L268.44 304.81 L269.11 306.03 L270.01 306.27 L271.16 305.51 L271.54 305.26 L272.68 305.31 L273.98 305.61 L274.72 305.01 L275.01 303.69 L275.59 302.85 L276.76 302.94 L277.96 303.08 L278.63 302.37 L278.99 301.16 L279.52 300.61 L280.58 300.29 L281.59 299.93 L281.97 299.07 L282.04 297.94 L282.47 297.12 L283.42 296.71 L283.93 296.42 L284.97 296.37 L286.05 296.04 L287.05 296.22 L287.97 296.82 L288.95 297.11 L289.99 296.97 L290.8 296.44 L291.75 296.25 L292.72 296.14 L293.61 295.81 L294.43 295.29 L295.28 294.87 L296.21 294.64 L297.15 294.43 L297.97 294.07 L298.91 294.29 L299.81 294.58 L300.67 295 L301.53 295.41 L302.43 295.71 L303.36 295.94 L304.25 296.25 L305.1 296.68 L306.03 297.12 L306.92 296.77 L307.78 296.34 L308.69 296.05 L309.66 295.97 L310.6 295.83 L311.47 295.4 L312.3 294.87 L313.22 294.64 L314.23 294.7 L315.18 294.58 L316 293.99 L316.77 293.39 L317.68 293.26 L318.7 293.5 L319.63 293.44 L320.38 292.77 L321.11 292.02 L322.02 291.9 L323.09 292.29 L324.05 292.32 L324.76 291.54 L325.42 290.62 L326.32 290.46 L327.43 290.97 L328.42 291.11 L329.12 290.29 L329.73 289.22 L330.62 289 L331.75 289.61 L332.78 289.88 L333.48 289.05 L334.06 287.86 L334.92 287.57 L336.07 288.23 L337.17 288.59 L337.89 287.69 L338.51 286.45 L339.45 286.28 L340.66 287.02 L341.71 287.2 L342.38 286.16 L343.04 285.04 L344.04 285.06 L345.24 285.77 L346.11 285.76 L346.92 284.78 L347.76 283.97 L348.75 284.27 L349.81 285.01 L350.75 284.94 L351.57 284.02 L352.44 283.41 L353.44 283.75 L354.47 284.3 L355.4 284.1 L356.24 283.31 L357.13 282.9 L358.12 283.2 L359.12 283.54 L360.1 283.26 L360.82 282.42 L361.69 281.96 L362.75 281.96 L363.75 281.82 L364.58 281.26 L365.38 280.62 L366.31 280.31 L367.31 280.19 L368.24 279.88 L369.09 279.35 L369.95 278.87 L370.89 278.59 L371.85 278.36 L372.76 277.98 L373.62 277.5 L374.51 277.1 L375.46 276.82 L376.4 276.54 L377.29 276.13 L378.15 275.66 L379.06 275.29 L380.02 275.04 L380.92 274.74 L381.76 274.26 L382.57 273.74 L383.46 273.4 L384.42 273.23 L385.33 272.93 L386.11 272.35 L386.78 271.86 L387.39 271.17 L388.17 270.62 L388.76 269.92 L388.99 268.98 L389.73 268.31 L390.65 268.13 L391.71 268.28 L392.63 268.08 L393.31 267.28 L394.01 266.5 L394.97 266.41 L396.09 266.73 L397 266.53 L397.63 265.56 L398.29 264.69 L399.29 264.72 L400.46 265.18 L401.37 264.95 L401.92 263.84 L402.47 262.86 L403.54 262.9 L404.8 263.34 L405.65 262.96 L406.05 261.68 L406.61 260.71 L407.72 260.86 L409 261.33 L409.81 260.87 L410.18 259.53 L410.77 258.62 L411.96 258.82 L413.07 259.56 L413.94 259.24 L414.62 258.04 L415.41 257.36 L416.47 257.84 L417.56 258.51 L418.43 258.18 L419.13 257.06 L419.93 256.45 L420.87 257 L421.68 256 L421.39 255 L420.53 254 L420.73 252.53 L421.99 252.7 L423.03 252.5 L423.63 251.5 L424.25 250.56 L425.28 250.34 L426.44 250.32 L427.27 249.76 L427.82 248.88 L428.21 248.06 L428.98 247.48 L429.73 246.9 L430.16 246.11 L430.41 245.19 L430.81 244.37 L431.46 243.73 L432.13 243.09 L432.61 242.32 L432.96 241.47 L433.38 240.67 L433.96 239.99 L434.31 239.13 L434.53 238.24 L434.64 237.33 L434.8 236.42 L435.08 235.55 L435.4 234.68 L435.63 233.8 L435.76 232.88 L435.9 232 L435.96 231.1 L436.09 230.2 L436.12 229.3 L435.98 228.4 L435.84 227.5 L435.91 226.6 L436.12 225.7 L436.21 224.8 L436 223.9 L435.77 223.1 L435.47 222.19 L435.43 221.17 L435.17 220.25 L434.45 219.52 L433.76 218.78 L433.59 217.82 L433.71 216.73 L433 216"/>
<path d="M248.97 312.98 L248.63 313.84 L248.1 314.57 L247.45 315.22 L246.94 315.88 L246.17 316.43 L245.41 316.99 L244.58 317.43 L243.71 317.78 L242.87 318.2 L242.09 318.72 L241.31 319.25 L240.48 319.68 L239.61 320.05 L238.78 320.47 L238 321 L237.13 321.32 L236.24 321.51 L235.32 321.6 L234.41 321.76 L233.55 322.1 L232.71 322.49 L231.81 322.67 L230.86 322.67 L229.94 322.79 L229.12 323.23 L228.32 323.74 L227.43 323.94 L226.46 323.85 L225.53 323.92 L224.73 324.45 L223.97 325.09 L223 325"/>
<path stroke-width="1.25" d="M322.18 292.16 L322.98 292.95 L324.04 293.68 L324.13 294.61 L323.43 295.7 L323.19 296.69 L323.95 297.48 L324.87 298.25 L324.93 299.18 L324.36 300.24 L324.23 301.21 L324.91 301.99 L325.36 303 L325.07 303.91 L324.34 304.76 L324.03 305.67 L324.34 306.67 L324.58 307.65 L324.26 308.56 L323.71 309.44 L323.52 310.36 L323.71 311.34 L323.79 312.3 L323.49 313.21 L323.11 314.11 L322.98 315.04 L323.05 315.98 L323.51 316.82 L323.78 317.74 L324.03 318.67 L324.43 319.53 L324.92 320.35 L325.34 321.21 L325.63 322.12 L325.92 323.02 L326.23 323.92 L326.61 324.8 L326.9 325.7 L327.07 326.64 L327.25 327.58 L327.59 328.47 L328.02 329.33 L328.3 330.24 L328.39 331.2 L328.54 332.15 L328.97 333.01 L329.49 333.79 L329.76 334.65 L329.75 335.61 L329.85 336.53 L330.34 337.31 L331 338.05 L331.23 339.23 L330.1 339.6 L329.2 340.2 L328.84 341.34 L328.2 342.49 L327.11 342.41 L325.97 342.2 L325.15 342.78 L324.54 343.88 L323.67 344.36 L322.46 343.98 L321.36 343.86 L320.68 344.8 L320.09 345.95 L319.08 346.07 L317.46 346 L317.22 346.91 L318.05 347.82 L318.84 348.73 L318.5 349.64 L317.47 350.55 L317.15 351.45 L317.99 352.36 L318.85 353.27 L318.56 354.18 L317.52 355.09 L318 356"/>
<path stroke-width="1.25" d="M329.7 341.4 L330.28 342.14 L331.58 341.92 L332.7 341.95 L333 343.06 L333.15 344.38 L334.06 344.67 L335.46 344.32 L336.28 344.75 L336.36 346.15 L336.74 347.17 L337.96 347.06 L339.28 346.75 L339.8 347.77 L340.1 349.17 L341.11 349.38 L342.5 348.94 L343.29 349.51 L343.58 350.92 L344.34 351.55 L345.66 351.23 L346.67 351.43 L347.1 352.62 L347.78 353.59 L348.88 353.37 L349.97 353.14 L350.73 353.82 L351.4 354.75 L352.34 354.94 L353.44 354.72 L354.34 355.02 L355.05 355.82 L355.83 356.27 L356.82 356.46 L357.75 356.76 L358.42 357.46 L359.09 358.18 L359.95 358.58 L360.88 358.88 L361.66 359.4 L362.36 360.07 L363.14 360.6 L364.02 360.98 L364.77 361.52 L365.41 362.19 L366.04 362.87 L366.77 363.43 L367.55 363.95 L368.25 364.55 L368.87 365.24 L369.53 365.88 L370.31 366.39 L371.09 367.1 L370.33 367.64 L369.51 368.12 L368.85 368.76 L368.33 369.57 L367.67 370.22 L366.78 370.62 L365.97 371.1 L365.47 371.93 L365 372.8 L364.16 373.25 L363.15 373.5 L362.5 374.17 L362.29 375.07 L362.22 376 L361.41 376.74 L360.78 377.53 L361.04 378.54 L361.48 379.59 L360.99 380.42 L359.94 381.1 L359.66 381.97 L360.31 382.93 L360.93 383.74 L360.35 384.81 L359.81 385.88 L360.54 386.66 L361.73 387.34 L361.75 388.28 L360.86 389.42 L360.83 390.37 L362.05 391.04 L362.43 391.22 L362.85 392.4 L363.21 393.67 L364.28 393.68 L365.63 393.17 L366.38 393.75 L366.66 395.18 L367.36 395.84 L368.67 395.42 L369.75 395.39 L370.2 396.52 L370.47 397.53 L371.43 397.86 L372.69 397.88 L373.29 398.57 L373.34 399.8 L373.79 400.64 L374.9 400.82 L375.9 401.1 L376.26 402.02 L376.48 403.09 L377.2 403.65 L378.25 403.89 L378.98 404.45 L379.31 405.41 L379.87 406.31 L380.86 406.42 L381.86 406.5 L382.67 407.02 L383.43 407.67 L384.32 408 L385.29 408.15 L386.18 408.5 L387 409"/>
<path d="M358.95 249.9 L360.08 249.96 L360.77 249.22 L361.32 248.22 L362.28 247.97 L363.43 248.06 L364.2 247.45 L364.75 246.44 L365.64 246.07 L366.77 246.12 L367.6 245.64 L368.18 244.69 L369.01 244.2 L370.09 244.18 L370.96 243.86 L371.6 243.07 L372.34 242.5 L373.31 242.38 L374.24 242.18 L374.96 241.56 L375.67 240.92 L376.55 240.64 L377.49 240.44 L378.28 239.97 L379.01 239.37 L379.83 238.96 L380.74 238.71 L381.57 238.33 L382.34 237.8 L383.14 237.33 L384 237 L384.88 236.71 L385.72 236.29 L386.55 235.88 L387.42 235.55 L388.3 235.26 L389.15 234.88 L389.99 234.46 L390.84 234.11 L391.73 233.82 L392.59 233.48 L393.42 233.05 L394.26 232.64 L395.15 232.37 L396.07 232.08 L396.72 231.39 L397.34 230.67 L398.12 230.13 L398.96 229.66 L399.62 228.98 L400.17 228.18 L400.92 227.61 L401.84 227.23 L402.54 226.6 L403.02 225.72 L403.7 225.06 L404.68 224.75 L405.48 224.24 L406.06 223.29 L407.04 223.62 L407.64 224.55 L408.38 225.27 L409.51 225.33 L410.5 225.62 L411.06 226.62 L411.74 227.35 L412.9 227.47 L413.87 227.84 L414.3 228.94 L414.92 229.77 L415.94 229.84 L416.73 229.2 L417.87 229.41 L418.91 229.36 L419.6 228.44 L420.37 227.74 L421.48 227.89 L422.54 227.89 L423.26 227.05 L424.02 226.31 L425.1 226.38 L426.27 226.32 L426.73 225.44 L427.16 224.52 L428.01 224.1 L429 223.83 L429.62 223.15 L430.05 222.22 L430.75 221.63 L431.7 221.32 L432.45 220.77 L432.92 220 L432.8 219 L433.07 218 L433.17 217 L433 216"/>
<path stroke-width="1.25" d="M420.61 258.2 L421.66 258.74 L422.29 259.5 L422.25 260.59 L422.32 261.62 L423.03 262.34 L423.87 263 L424.21 264.08 L423.49 264.82 L423.09 265.69 L423.05 266.69 L422.89 267.64 L422.38 268.46 L421.84 269.27 L421.57 270.19 L421.42 271.15 L421.05 272.11 L419.97 272.45 L418.96 272.92 L418.02 273.55 L417.07 273.97 L417.4 274.87 L417.78 275.75 L418.28 276.57 L418.8 277.38 L419.18 278.27 L419.48 279.19 L419.91 280.04 L420.46 280.8 L420.94 281.6 L421.2 282.5 L421.42 283.42 L421.9 284.21 L422.56 285.09 L422.11 285.94 L421.32 286.58 L420.64 287.28 L420.43 288.27 L420.28 289.29 L419.61 290 L418.65 290.54 L418.15 291.35 L418.2 292.5 L417.95 293.46 L416.95 293.97 L415.96 294.56 L415.9 295.69 L416.07 296.95 L415.26 297.65 L413.95 298.06 L413.57 299 L413.97 300.39 L413.64 300.79 L413.03 301.94 L412.76 302.98 L413.67 303.63 L414.87 304.19 L415.03 305.09 L414.31 306.28 L414.29 306.49 L414.45 307.78 L414.61 309.07 L413.62 309.54 L412.18 309.69 L411.7 310.52 L412.04 311.93 L411.77 312.91 L410.46 313.15 L409.71 313.23 L409.03 314.12 L408.46 315.31 L407.51 315.47 L406.29 314.92 L405.33 315.06 L404.72 316.14 L404.01 316.95 L402.94 316.79 L401.76 316.52 L400.99 317.13 L400.44 318.17 L399.62 318.67 L398.5 318.58 L397.52 318.76 L396.84 319.54 L396.35 320 L396.14 321 L395.74 322 L395.82 323 L396.16 324 L396.14 324.88 L396.55 325.74 L397.06 326.52 L397.78 327.12 L398.5 327.72 L399.06 328.45 L399.55 329.24 L400.12 329.96 L400.81 330.59 L401.47 331.24 L402.02 331.97 L402.8 332.48 L403.64 332.9 L404.52 333.21 L405.38 333.58 L406.17 334.08 L406.95 334.61 L407.8 334.98 L408.72 335.23 L409.56 335.62 L410.3 336.23 L411.07 336.78 L411.97 337.01 L412.65 337.75 L412.99 338.65 L413.07 339.68 L413.46 340.56 L414.28 341.22 L414.93 341.96 L414.99 343 L415.01 344.07 L415.68 344.8 L416.69 345.37 L417.08 346.25 L416.84 347.43 L417.04 348.41 L418.04 348.89 L419.12 348.71 L419.8 349.51 L420.33 350.66 L421.21 350.94 L422.44 350.42 L423.44 350.42 L423.99 351.52 L424.54 352.62 L425.57 352.57 L426.83 351.95 L427.71 352.26 L428.16 353.59 L428.8 354.46 L429.92 354.06 L431.21 354.23 L431.53 355.13 L431.21 356.5 L431.52 357.4 L432.79 357.59 L433.95 357.85 L434.11 358.87 L433.86 360.19 L434.36 360.96 L435.64 361.13 L435.85 361.24 L436.88 361.66 L437.95 362.27 L438.82 361.9 L439.56 360.89 L440.43 360.5 L441.47 360.98 L442.48 361.29 L443.31 360.74 L444.1 359.95 L445.02 359.82 L446.07 360.19 L447 360.06 L447.71 359.38 L448.43 358.71 L449.33 358.52 L450.32 358.55 L451.19 358.29 L451.94 357.69 L452.72 357.19 L453.62 357 L454.55 356.88 L455.4 356.55 L456.18 356.05 L457 355.65 L457.89 355.43 L458.79 355.22 L459.62 354.86 L460.43 354.43 L461.27 354.07 L462.15 353.83 L463.03 353.58 L463.87 353.22 L464.68 352.79 L465.52 352.44 L466.41 352.22 L467.3 352 L468.12 351.59 L468.9 351.1 L469.75 350.77 L470.68 350.65 L471.58 350.45 L472.36 349.95 L473.11 349.37 L473.99 349.11 L474.97 349.13 L475.87 348.93 L476.58 348.26 L477.3 347.6 L478.23 347.48 L479.28 347.66 L480 347"/>
<path d="M436.01 362.01 L435.31 362.65 L434.52 363.15 L433.71 363.63 L432.96 364.2 L432.28 364.85 L431.55 365.44 L430.75 365.93 L429.95 366.43 L429.23 367.04 L428.55 367.69 L427.8 368.25 L426.96 368.7 L426.17 369.21 L425.5 369.88 L424.85 370.57 L424.04 371.07 L423.07 371.27 L422.21 371.7 L421.49 372.4 L420.69 372.96 L419.7 373.11 L418.7 373.27 L417.95 373.91 L417.3 374.74 L416.41 375.1 L415.3 375.03 L414.38 375.33 L413.78 376.27 L413.1 377.06 L412.07 376.97 L411.81 378.09 L412.36 378.89 L413.43 379.5 L413.86 380.36 L413.43 381.53 L413.34 382.58 L414.29 383.24 L415.34 383.86 L415.29 385.21 L414.01 385.39 L413.37 386.05 L413.53 387.3 L413.45 388.39 L412.45 388.77 L411.18 388.96 L410.71 389.74 L410.92 391.03 L410.71 392.01 L409.59 392.31 L408.28 393.09 L408.77 394.04 L409.86 394.92 L409.87 395.94 L409.05 397.06 L409.04 398.07 L410.03 398.97 L410.49 399.92 L409.94 400.91 L408.88 400.99 L408.32 401.87 L407.85 402.9 L406.98 403.29 L405.85 403.26 L404.98 403.64 L404.44 404.56 L403.81 405.34 L402.85 405.59 L402 406"/>
<path d="M325 420.72 L326 420.22 L327 417.91 L328 417.23 L329 419.17 L330 420.84 L331 419.77 L332.8 417.86 L333.65 418.28 L333.35 420.35 L333.33 422.01 L334.62 421.8 L336.48 420.79 L337.45 421.03 L337.34 422.84 L337.34 424.48 L338.44 424.54 L340.14 423.75 L341.19 423.88 L341.29 425.38 L341.23 426.77 L342.11 427.22 L343.68 426.99 L344.71 427.29 L344.8 428.53 L344.79 429.87 L345.55 430.45 L346.86 430.47 L347.84 430.83 L348.14 431.86 L348.33 433 L349.01 433.66 L350.04 433.88 L351.04 433.87 L351.85 434.45 L352.61 435.16 L353.51 435.48 L354.52 435.45 L355.48 435.55 L356.34 435.99 L357.15 436.55 L358.04 436.88 L358.99 436.98 L359.63 436.23 L360.44 435.68 L361.34 435.23 L362.11 434.64 L362.72 433.84 L363.35 433.07 L364.19 432.55 L365 432.22 L366 432.25 L367 431.87 L368 431.62 L369 431.94 L370 432.44 L370.73 432.18 L371.73 432.59 L372.52 433.15 L372.65 434.15 L372.52 435.32 L372.93 436.13 L374.09 436.44 L375.23 436.77 L375.46 437.63 L375.16 439.04 L375.31 440.1 L376.53 440.29 L378.07 440.23 L378.66 440.93 L378.18 442.49 L377.64 443.14 L378.4 443.98 L380.12 444.72 L380.72 445.58 L379.45 446.63 L377.98 447.69 L378.34 448.57 L380.28 449.3 L381.47 450.1 L380.44 451.12 L378.58 452.22 L380 454.64 L381 452.64 L382 451.13 L383 452.4 L384 454.58 L385 454.43 L386 452.16 L385.3 452.27 L387.16 452.03 L389.29 451.91 L389.31 450.88 L387.74 449.18 L387.25 447.93 L388.96 447.63 L391.01 447.47 L389.61 447.18 L391.27 445.52 L392.47 445.26 L392.76 447.1 L392.04 448.45 L393.15 449.01 L394.99 449.25 L395.58 450.04 L394.74 451.43 L394.19 452.7 L395.1 453.35 L395.93 453.32 L396.82 452.98 L397.81 453.78 L398.81 454.52 L399.69 454.21 L400.52 453.25 L401.38 452.76 L402.34 453.15 L403.32 453.72 L404.23 453.66 L405.09 453.04 L406.19 452.61 L406.98 453.26 L407.67 454.11 L408.54 454.59 L409.58 454.72 L410.56 454.99 L411.37 455.6 L412.14 456.27 L413.04 456.69 L414.01 456.92 L415.02 456.94 L416 457.24 L416.98 457.56 L417.99 457.61 L419.02 457.47 L420.03 457.54 L420.99 457.94 L421.85 458.26 L422.78 458.58 L423.82 458.74 L424.66 459.23 L425.25 460.14 L425.91 460.93 L426.94 461.1 L428.11 461.05 L428.92 461.58 L429.34 462.77 L429.94 463.66 L431.11 463.6 L431.53 463.33 L432.38 462.9 L433.79 463.29 L434.93 463.28 L435.23 462.07 L435.26 460.47 L436.03 459.94 L437.62 460.56 L438.95 460.83 L439.23 459.59 L439.04 457.69 L439.69 456.97 L441.39 457.76 L442.2 458.61 L443.09 457.56 L443.83 455.41 L444.82 455.22 L446.09 457.19 L447.22 458.17 L448.03 456.45 L448.78 454.39 L450.47 455.02 L450.37 457.36 L450.87 458.46 L452.4 457.41 L454.06 456.09 L454.78 456.73 L455 458.4"/>
</g>
</g>
<path d="M10.6 154.4 L25 146 L34 141 L61 124.6 L83 110 L97 104.4 L96 99.4 L98 97.6 L103 98 L103.6 101.6 L105 101 L122.4 96.6 L123.6 100 L124.4 103.6 L121.6 108 L123 112 L124 115.6 L127 120 L131 123 L143.6 123 L142.4 114.4 L148 113 L152 110.4 L160 114 L170 117.6 L176 119 L179 121.6 L179 130 L181 131.6 L189 131.6 L192 133 L198 130 L204 127.6 L209 124.4 L215 124.4 L228 114 L239 101.6 L236 97 L252 96 L253 100 L259 100.6 L264.4 98 L262 92 L258.4 86 L259.6 83 L257.6 80.4 L269 75 L279.6 73.6 L280.4 76 L278.4 85 L280 86 L286 84.4 L295 86 L297 81 L303 75.6 L308 69 L312 68.6 L319 73.6 L319.6 80 L318 82 L320 86.4 L317 84.6 L311 84 L309.6 85.6 L311 88 L314 88.6 L318 88 L322 89 L326 87 L330 92 L335 87 L341 80 L343 74 L346 72 L347 75 L351.6 75.6 L355 84 L351 92 L358 101 L359.6 108 L364 110 L368 107.4 L373 111 L373 119.6 L380 120 L386 119 L388 117.4 L397 119.4 L401 115 L407 111.6 L410 112.6 L416 120 L416 128 L423 131 L430 136 L436 136.6 L443 135 L446 139 L447 143 L452 139.4 L456.4 145 L452 150 L453.5 153 L449.5 156 L448 161 L445 164 L446 170 L443 175 L444 179 L439 184 L443 186 L440 191 L435 196 L434 199 L430 202 L428 207 L428.4 210 L430 213 L432 215 L436 217 L436.6 220 L435.6 224 L434.6 227.6 L439 227.6 L441.6 227 L443 223.5 L446.2 221.5 L447.7 224 L449.7 225 L451.2 227 L454.2 226.5 L455.7 228 L457.7 225.5 L461.7 224.5 L462.8 227 L465.3 228 L468.3 226.5 L471.8 225.5 L474.8 227.5 L479.9 227 L482.9 229 L483.4 232 L482 233.6 L483 235 L484.4 233.6 L492.4 233.6 L494.4 235 L496.5 240 L500.5 246 L503 249 L503 250.7 L501 251.7 L502.5 254.7 L503.5 253.3 L508.5 253.7 L514 253.7 L515 255 L514.4 257 L512.4 259.5 L510.9 263 L508.4 264 L505.4 267 L501.9 269.6 L502.4 272.6 L504.4 273.6 L503.9 276 L506.9 278.6 L508.9 282 L511.9 281.7 L514.9 280 L520 280.7 L523.5 282.7 L526.5 283.7 L525.5 286 L526 289.7 L529 290 L530.5 293 L529.5 298 L528.5 302 L527.5 305.8 L525.5 307 L529.5 310.6 L533.6 313.6 L535 316.6 L534.6 319 L531.5 319.6 L528.5 323 L526.5 320 L523.5 318.6 L521 320 L519.5 324 L518 326.7 L519.5 329 L517 331.7 L512.4 332 L508.4 334.7 L506.4 337.7 L503.4 339 L502.4 341 L504.4 343 L505.4 347 L505.9 349.8 L500.5 351 L498.5 353.6 L500.5 356 L501 359 L498.5 361 L495.5 359.6 L496 355 L494.4 352.5 L490.4 352.5 L489.4 355 L486.4 355.6 L483.9 354 L483.4 350 L480.4 351 L475.3 352 L474.8 356 L474.3 361 L470.3 362.6 L466.3 364.6 L464.8 369 L464.3 372.7 L460.7 374.7 L460.2 377 L462.3 379.7 L461.2 382.7 L458.2 385 L455.7 386.7 L456.2 390 L458.8 392 L457.8 395 L454.8 396.5 L450.3 397.5 L449.3 400 L449.8 403 L448.3 407.6 L444.3 411.6 L447.3 413.6 L450.8 414.6 L451.3 417 L447.3 417.7 L446.8 421 L444.8 425 L446.3 429 L446.8 433.8 L451.8 433 L453.3 436 L456.3 440.8 L457.5 444 L458.5 448.5 L462.5 448 L465.6 451.6 L463 457 L464 459.6 L468.6 461.6 L469.1 466 L466 469 L464.6 473 L461.5 476.7 L462 478.7 L464 478 L463.5 481 L460.5 484 L456.5 486 L452.5 484 L450 483 L448 485.7 L447.5 488 L443.4 487.7 L441.4 488.7 L438.4 486.7 L435 485.7 L431.9 487 L429.9 489.7 L429.4 493 L428.4 496 L426.3 493.7 L422.3 491.7 L419.8 491.7 L418.3 494 L414.3 495.7 L410.2 496.7 L408.7 498 L407.7 496 L405.7 494 L408.2 492.7 L407.7 489.7 L405.2 486.7 L406.7 483 L404.2 482 L403.2 478 L400.2 474.6 L395 471.6 L391.6 469.6 L389.6 473 L386.6 474 L385 471 L387.6 467 L389 465 L385 461 L381 457 L379 457 L367 457 L366 453 L361 452.4 L359 447 L356 442 L346 438 L342 434.4 L337 434 L331 436.6 L322.4 435.6 L325 430 L323 425 L322 420 L326 416 L327 409 L322 403 L314 398.5 L316 393 L320 388 L318 383 L321 379 L320 375 L325 372 L322 368 L326 365 L328 361 L323 359 L318 357 L312 362 L305 368 L299 377 L300 385 L300 392 L284 396 L276 401 L266 404 L256 401 L248 398.6 L232 400 L231 398 L225 395 L227 392 L224 388 L227 382 L236 377 L234 371 L233 363 L225 363 L224 359 L227 353 L226 347 L229 343 L235.6 338 L234 333 L228 330 L223 332 L222 326 L214 320 L209 314.4 L200 317 L191 320 L186 317 L180 315.6 L170 316 L169 322 L166 325 L162 320 L159 311 L161 307 L160 296 L156 290 L150 284.4 L138 285 L139 278 L134 277 L132 281 L121 284 L114 280 L108 273 L107 260 L104 252 L103 246 L106 244 L105 241 L104 237 L98 236 L97 232 L92 222 L89 220 L86 220 L82 224 L79 222 L75 223 L71 226 L64 230 L61 235 L58 240 L54 239 L50 235 L45 234 L43 230 L38 226 L34 220 L31 215 L21.6 213 L20 209 L17.6 205 L18 194 L16 191 L20 181 L14.4 171 L13.6 159Z" fill="none" stroke="#222" stroke-width="1.6" stroke-linejoin="round"/>
<polygon points="329,81 331,79 334,79.5 335,82 333,85 330,85.5" fill="#1a1a1a"/>
</g>
<g transform="translate(0,0)"><path d="M7 5 L20.2 5 C23 7.5 26.5 13 27.7 16.5 C29 20 29.2 28 28.5 33 C28 37 25 42 22.5 45 C21 47 20.6 50 20.7 53.2 L7 53.2Z" fill="#0050ff"/><path d="M55.8 7.8 L55.8 53.2 L24 53.2 C24.2 51 25 49.5 25.5 48.7 C27 46.5 33 40.5 36 37.5 C38 35.5 39.3 33 39.7 31.5 C40.5 29 40.8 26 41.2 24 C41.8 21 43 18.5 44.2 16.5 C45.5 14.5 47.5 12.3 49.5 10.8 C51.5 9.3 54 8.2 55.8 7.8Z" fill="#0050ff"/><text x="4.8" y="70.6" font-size="20.2" fill="#0050ff" stroke="#0050ff" stroke-width="0.35" textLength="53" lengthAdjust="spacingAndGlyphs">IRM</text></g><g transform="translate(640,0)"><path d="M7 5 L20.2 5 C23 7.5 26.5 13 27.7 16.5 C29 20 29.2 28 28.5 33 C28 37 25 42 22.5 45 C21 47 20.6 50 20.7 53.2 L7 53.2Z" fill="#0050ff"/><path d="M55.8 7.8 L55.8 53.2 L24 53.2 C24.2 51 25 49.5 25.5 48.7 C27 46.5 33 40.5 36 37.5 C38 35.5 39.3 33 39.7 31.5 C40.5 29 40.8 26 41.2 24 C41.8 21 43 18.5 44.2 16.5 C45.5 14.5 47.5 12.3 49.5 10.8 C51.5 9.3 54 8.2 55.8 7.8Z" fill="#0050ff"/><text x="4.8" y="70.6" font-size="20.2" fill="#0050ff" stroke="#0050ff" stroke-width="0.35" textLength="53" lengthAdjust="spacingAndGlyphs">IRM</text></g><g>
<text transform="translate(79,30.8) rotate(0.05) scale(1,1.07)" font-size="14.6" font-weight="bold">Température journalière maximale</text>
<text transform="translate(78,51.8) rotate(0.05) scale(1,1.04)" font-size="12.9">moyenne octobre 2025</text>
<text transform="translate(719,30.8) rotate(0.05) scale(1,1.07)" font-size="14.6" font-weight="bold">Ecart à la normale de la température journalière maximale</text>
<text transform="translate(718,51.8) rotate(0.05) scale(1,1.04)" font-size="12.9">moyenne octobre 2025 par rapport à la normale mensuelle 1991-2020</text>
<text transform="translate(633.6,73.8) rotate(0.05) scale(1,1.07)" font-size="14.6" font-weight="bold" text-anchor="end">°C</text>
<text transform="translate(1273.6,73.8) rotate(0.05) scale(1,1.07)" font-size="14.6" font-weight="bold" text-anchor="end">Ecart °C</text>
<rect x="563" y="96.00" width="26" height="56.87" fill="#a50026"/><rect x="563" y="152.57" width="26" height="56.87" fill="#ea593a"/><rect x="563" y="209.14" width="26" height="56.87" fill="#fdbf71"/><rect x="563" y="265.71" width="26" height="56.87" fill="#ffffbf"/><rect x="563" y="322.29" width="26" height="56.87" fill="#bde2ee"/><rect x="563" y="378.86" width="26" height="56.87" fill="#649ac7"/><rect x="563" y="435.43" width="26" height="56.87" fill="#313695"/><text transform="translate(601,102.0) rotate(0.05) scale(1,1.0)" font-size="14.6">17</text>
<text transform="translate(601,158.57) rotate(0.05) scale(1,1.0)" font-size="14.6">16</text>
<text transform="translate(601,215.14) rotate(0.05) scale(1,1.0)" font-size="14.6">15</text>
<text transform="translate(601,271.71) rotate(0.05) scale(1,1.0)" font-size="14.6">14</text>
<text transform="translate(601,328.29) rotate(0.05) scale(1,1.0)" font-size="14.6">13</text>
<text transform="translate(601,384.86) rotate(0.05) scale(1,1.0)" font-size="14.6">12</text>
<text transform="translate(601,441.43) rotate(0.05) scale(1,1.0)" font-size="14.6">11</text>
<text transform="translate(601,498.0) rotate(0.05) scale(1,1.0)" font-size="14.6">10</text>
<rect x="1203" y="96.00" width="26" height="79.50" fill="#ea593a"/><rect x="1203" y="175.20" width="26" height="79.50" fill="#fdcf82"/><rect x="1203" y="254.40" width="26" height="79.50" fill="#e4f3ee"/><rect x="1203" y="333.60" width="26" height="79.50" fill="#74add1"/><rect x="1203" y="412.80" width="26" height="79.50" fill="#313695"/><text transform="translate(1240.8,102.0) rotate(0.05) scale(1,1.0)" font-size="14.6">1</text>
<text transform="translate(1240.8,181.2) rotate(0.05) scale(1,1.0)" font-size="14.6">0.5</text>
<text transform="translate(1240.8,260.4) rotate(0.05) scale(1,1.0)" font-size="14.6">0</text>
<text transform="translate(1240.8,339.6) rotate(0.05) scale(1,1.0)" font-size="14.6">-0.5</text>
<text transform="translate(1240.8,418.8) rotate(0.05) scale(1,1.0)" font-size="14.6">-1</text>
<text transform="translate(1240.8,498.0) rotate(0.05) scale(1,1.0)" font-size="14.6">-1.5</text>
</g>
</svg>
</body></html>
